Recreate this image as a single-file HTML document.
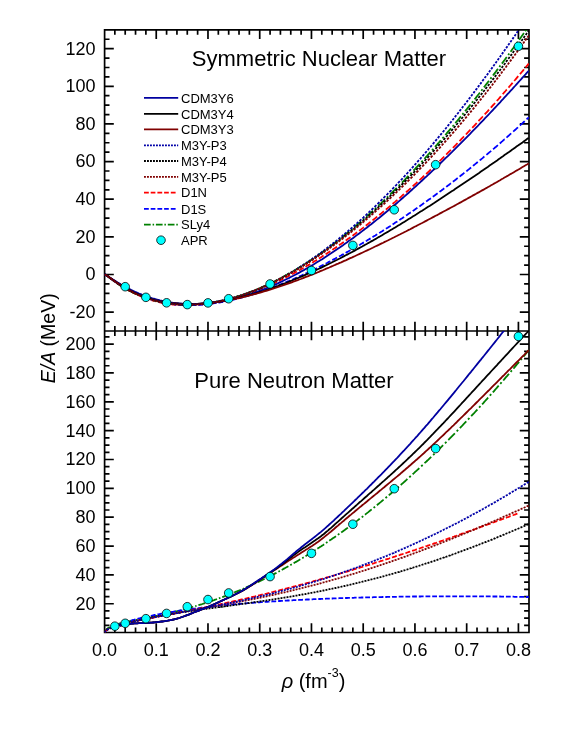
<!DOCTYPE html>
<html><head><meta charset="utf-8"><title>E/A vs density</title>
<style>html,body{margin:0;padding:0;background:#fff}body{width:581px;height:753px;overflow:hidden;font-family:"Liberation Sans",sans-serif}</style>
</head><body>
<svg width="581" height="753" viewBox="0 0 581 753" style="display:block;will-change:transform">
<rect width="581" height="753" fill="#fff"/>
<defs><clipPath id="c1"><rect x="104.60" y="29.90" width="424.40" height="301.10"/></clipPath>
<clipPath id="c2"><rect x="104.60" y="331.00" width="424.40" height="301.50"/></clipPath></defs>
<path d="M114.85 29.90v4.90M114.85 326.10v9.80M114.85 632.50v-4.90M125.20 29.90v4.90M125.20 326.10v9.80M125.20 632.50v-4.90M135.54 29.90v4.90M135.54 326.10v9.80M135.54 632.50v-4.90M145.89 29.90v4.90M145.89 326.10v9.80M145.89 632.50v-4.90M156.24 29.90v9.20M156.24 321.80v18.40M156.24 632.50v-9.20M166.59 29.90v4.90M166.59 326.10v9.80M166.59 632.50v-4.90M176.94 29.90v4.90M176.94 326.10v9.80M176.94 632.50v-4.90M187.28 29.90v4.90M187.28 326.10v9.80M187.28 632.50v-4.90M197.63 29.90v4.90M197.63 326.10v9.80M197.63 632.50v-4.90M207.98 29.90v9.20M207.98 321.80v18.40M207.98 632.50v-9.20M218.33 29.90v4.90M218.33 326.10v9.80M218.33 632.50v-4.90M228.68 29.90v4.90M228.68 326.10v9.80M228.68 632.50v-4.90M239.02 29.90v4.90M239.02 326.10v9.80M239.02 632.50v-4.90M249.37 29.90v4.90M249.37 326.10v9.80M249.37 632.50v-4.90M259.72 29.90v9.20M259.72 321.80v18.40M259.72 632.50v-9.20M270.07 29.90v4.90M270.07 326.10v9.80M270.07 632.50v-4.90M280.42 29.90v4.90M280.42 326.10v9.80M280.42 632.50v-4.90M290.76 29.90v4.90M290.76 326.10v9.80M290.76 632.50v-4.90M301.11 29.90v4.90M301.11 326.10v9.80M301.11 632.50v-4.90M311.46 29.90v9.20M311.46 321.80v18.40M311.46 632.50v-9.20M321.81 29.90v4.90M321.81 326.10v9.80M321.81 632.50v-4.90M332.16 29.90v4.90M332.16 326.10v9.80M332.16 632.50v-4.90M342.50 29.90v4.90M342.50 326.10v9.80M342.50 632.50v-4.90M352.85 29.90v4.90M352.85 326.10v9.80M352.85 632.50v-4.90M363.20 29.90v9.20M363.20 321.80v18.40M363.20 632.50v-9.20M373.55 29.90v4.90M373.55 326.10v9.80M373.55 632.50v-4.90M383.90 29.90v4.90M383.90 326.10v9.80M383.90 632.50v-4.90M394.24 29.90v4.90M394.24 326.10v9.80M394.24 632.50v-4.90M404.59 29.90v4.90M404.59 326.10v9.80M404.59 632.50v-4.90M414.94 29.90v9.20M414.94 321.80v18.40M414.94 632.50v-9.20M425.29 29.90v4.90M425.29 326.10v9.80M425.29 632.50v-4.90M435.64 29.90v4.90M435.64 326.10v9.80M435.64 632.50v-4.90M445.98 29.90v4.90M445.98 326.10v9.80M445.98 632.50v-4.90M456.33 29.90v4.90M456.33 326.10v9.80M456.33 632.50v-4.90M466.68 29.90v9.20M466.68 321.80v18.40M466.68 632.50v-9.20M477.03 29.90v4.90M477.03 326.10v9.80M477.03 632.50v-4.90M487.38 29.90v4.90M487.38 326.10v9.80M487.38 632.50v-4.90M497.72 29.90v4.90M497.72 326.10v9.80M497.72 632.50v-4.90M508.07 29.90v4.90M508.07 326.10v9.80M508.07 632.50v-4.90M518.42 29.90v9.20M518.42 321.80v18.40M518.42 632.50v-9.20M104.60 321.55h4.90M529.00 321.55h-4.90M104.60 312.14h9.20M529.00 312.14h-9.20M104.60 302.73h4.90M529.00 302.73h-4.90M104.60 293.32h4.90M529.00 293.32h-4.90M104.60 283.91h4.90M529.00 283.91h-4.90M104.60 274.50h9.20M529.00 274.50h-9.20M104.60 265.09h4.90M529.00 265.09h-4.90M104.60 255.68h4.90M529.00 255.68h-4.90M104.60 246.27h4.90M529.00 246.27h-4.90M104.60 236.86h9.20M529.00 236.86h-9.20M104.60 227.45h4.90M529.00 227.45h-4.90M104.60 218.04h4.90M529.00 218.04h-4.90M104.60 208.63h4.90M529.00 208.63h-4.90M104.60 199.22h9.20M529.00 199.22h-9.20M104.60 189.81h4.90M529.00 189.81h-4.90M104.60 180.40h4.90M529.00 180.40h-4.90M104.60 170.99h4.90M529.00 170.99h-4.90M104.60 161.58h9.20M529.00 161.58h-9.20M104.60 152.17h4.90M529.00 152.17h-4.90M104.60 142.76h4.90M529.00 142.76h-4.90M104.60 133.35h4.90M529.00 133.35h-4.90M104.60 123.94h9.20M529.00 123.94h-9.20M104.60 114.53h4.90M529.00 114.53h-4.90M104.60 105.12h4.90M529.00 105.12h-4.90M104.60 95.71h4.90M529.00 95.71h-4.90M104.60 86.30h9.20M529.00 86.30h-9.20M104.60 76.89h4.90M529.00 76.89h-4.90M104.60 67.48h4.90M529.00 67.48h-4.90M104.60 58.07h4.90M529.00 58.07h-4.90M104.60 48.66h9.20M529.00 48.66h-9.20M104.60 39.25h4.90M529.00 39.25h-4.90M104.60 625.39h4.90M529.00 625.39h-4.90M104.60 618.18h4.90M529.00 618.18h-4.90M104.60 610.96h4.90M529.00 610.96h-4.90M104.60 603.75h9.20M529.00 603.75h-9.20M104.60 596.54h4.90M529.00 596.54h-4.90M104.60 589.33h4.90M529.00 589.33h-4.90M104.60 582.11h4.90M529.00 582.11h-4.90M104.60 574.90h9.20M529.00 574.90h-9.20M104.60 567.69h4.90M529.00 567.69h-4.90M104.60 560.48h4.90M529.00 560.48h-4.90M104.60 553.26h4.90M529.00 553.26h-4.90M104.60 546.05h9.20M529.00 546.05h-9.20M104.60 538.84h4.90M529.00 538.84h-4.90M104.60 531.62h4.90M529.00 531.62h-4.90M104.60 524.41h4.90M529.00 524.41h-4.90M104.60 517.20h9.20M529.00 517.20h-9.20M104.60 509.99h4.90M529.00 509.99h-4.90M104.60 502.78h4.90M529.00 502.78h-4.90M104.60 495.56h4.90M529.00 495.56h-4.90M104.60 488.35h9.20M529.00 488.35h-9.20M104.60 481.14h4.90M529.00 481.14h-4.90M104.60 473.93h4.90M529.00 473.93h-4.90M104.60 466.71h4.90M529.00 466.71h-4.90M104.60 459.50h9.20M529.00 459.50h-9.20M104.60 452.29h4.90M529.00 452.29h-4.90M104.60 445.08h4.90M529.00 445.08h-4.90M104.60 437.86h4.90M529.00 437.86h-4.90M104.60 430.65h9.20M529.00 430.65h-9.20M104.60 423.44h4.90M529.00 423.44h-4.90M104.60 416.23h4.90M529.00 416.23h-4.90M104.60 409.01h4.90M529.00 409.01h-4.90M104.60 401.80h9.20M529.00 401.80h-9.20M104.60 394.59h4.90M529.00 394.59h-4.90M104.60 387.38h4.90M529.00 387.38h-4.90M104.60 380.16h4.90M529.00 380.16h-4.90M104.60 372.95h9.20M529.00 372.95h-9.20M104.60 365.74h4.90M529.00 365.74h-4.90M104.60 358.53h4.90M529.00 358.53h-4.90M104.60 351.31h4.90M529.00 351.31h-4.90M104.60 344.10h9.20M529.00 344.10h-9.20M104.60 336.89h4.90M529.00 336.89h-4.90" stroke="#000" stroke-width="1.70" fill="none"/>
<path d="M104.60 29.90H529.00V632.50H104.60ZM104.60 331.00H529.00" stroke="#000" stroke-width="1.70" fill="none" stroke-linejoin="miter"/>
<g clip-path="url(#c1)" fill="none" stroke-width="1.80">
<path d="M104.5 274.5L105.5 274.8L106.5 275.4L107.5 276.1L108.5 276.8L109.2 277.3M111.2 278.7L112.0 279.3L113.0 280.0L114.0 280.8L115.0 281.5L116.0 282.2M117.9 283.5L118.7 284.1L119.7 284.8L120.7 285.4L121.7 286.1L122.7 286.7M124.6 287.9L125.5 288.4L126.5 289.0L127.5 289.6L128.5 290.2L129.3 290.7M131.3 291.7L132.2 292.2L133.2 292.7L134.2 293.2L135.2 293.7L136.1 294.1M138.0 295.0L139.0 295.5L140.0 295.9L141.0 296.3L142.0 296.7L142.8 297.0M144.7 297.8L145.5 298.1L146.5 298.5L147.5 298.8L148.5 299.1L149.4 299.5L149.4 299.5M151.4 300.1L152.2 300.3L153.2 300.6L154.2 300.9L155.2 301.2L156.2 301.4M158.1 301.9L158.9 302.1L159.9 302.4L160.9 302.6L161.9 302.8L162.8 303.0M164.8 303.3L165.7 303.5L166.7 303.7L167.7 303.8L168.7 304.0L169.6 304.1M171.5 304.4L172.4 304.5L173.4 304.6L174.4 304.7L175.4 304.8L176.2 304.8M178.2 305.0L179.2 305.1L180.2 305.1L181.2 305.2L182.2 305.2L182.9 305.2M184.9 305.3L185.7 305.3L186.7 305.3L187.7 305.3L188.7 305.3L189.7 305.3M191.6 305.2L192.4 305.2L193.4 305.2L194.4 305.1L195.4 305.1L196.4 305.0M198.3 304.9L199.1 304.8L200.1 304.7L201.1 304.6L202.1 304.5L203.1 304.4M205.0 304.2L205.9 304.1L206.9 304.0L207.9 303.8L208.9 303.7L209.8 303.6M211.7 303.3L212.6 303.1L213.6 302.9L214.6 302.8L215.6 302.6L216.4 302.4M218.4 302.1L219.4 301.9L220.4 301.7L221.4 301.4L222.4 301.2L223.2 301.0M225.1 300.6L225.9 300.4L226.9 300.2L227.9 299.9L228.9 299.7L229.9 299.4M231.8 298.9L232.6 298.7L233.6 298.4L234.6 298.1L235.6 297.8L236.6 297.5M238.5 297.0L239.3 296.7L240.3 296.4L241.3 296.1L242.3 295.7L243.2 295.4M245.2 294.8L246.1 294.5L247.1 294.1L248.1 293.8L249.1 293.4L250.0 293.1M251.9 292.4L252.8 292.1L253.8 291.7L254.8 291.3L255.8 290.9L256.6 290.6M258.6 289.8L259.6 289.5L260.6 289.1L261.6 288.6L262.6 288.2L263.4 287.9M265.3 287.1L266.1 286.7L267.1 286.3L268.1 285.9L269.1 285.4L270.1 285.0M272.0 284.1L272.8 283.7L273.8 283.3L274.8 282.8L275.8 282.4L276.8 281.9M278.7 281.0L279.6 280.6L280.5 280.1L281.5 279.6L282.5 279.1L283.5 278.6M285.4 277.7L286.3 277.2L287.3 276.7L288.3 276.2L289.3 275.6L290.1 275.2M292.1 274.2L293.0 273.7L294.0 273.1L295.0 272.6L296.0 272.0L296.9 271.6M298.8 270.5L299.8 270.0L300.8 269.4L301.8 268.8L302.8 268.3L303.6 267.8M305.5 266.7L306.3 266.2L307.3 265.6L308.3 265.1L309.3 264.5L310.2 263.9M312.2 262.7L313.0 262.2L314.0 261.6L315.0 261.0L316.0 260.4L317.0 259.8M318.9 258.6L319.8 258.0L320.8 257.4L321.8 256.8L322.8 256.1L323.6 255.6M325.6 254.3L326.5 253.7L327.5 253.1L328.5 252.4L329.5 251.7L330.4 251.2M332.3 249.9L333.2 249.2L334.2 248.6L335.2 247.9L336.2 247.2L337.1 246.7M339.0 245.3L340.0 244.6L341.0 243.9L342.0 243.2L343.0 242.5L343.8 242.0M345.7 240.6L346.5 240.1L347.5 239.3L348.5 238.6L349.5 237.9L350.5 237.2M352.4 235.8L353.2 235.2L354.2 234.4L355.2 233.7L356.2 232.9L357.1 232.3M359.1 230.8L360.0 230.1L361.0 229.4L362.0 228.6L363.0 227.9L363.9 227.2M365.8 225.7L366.7 225.0L367.7 224.2L368.7 223.4L369.7 222.6L370.6 222.0M372.5 220.4L373.4 219.7L374.4 218.9L375.4 218.1L376.4 217.3L377.2 216.6M379.2 215.1L380.2 214.3L381.2 213.5L382.2 212.6L383.2 211.8L383.9 211.2M385.9 209.6L386.7 208.9L387.7 208.1L388.7 207.3L389.7 206.4L390.7 205.6M392.6 204.0L393.4 203.3L394.4 202.4L395.4 201.6L396.4 200.7L397.4 199.9M399.3 198.2L400.2 197.5L401.2 196.6L402.2 195.7L403.2 194.8L404.1 194.1M406.0 192.3L406.9 191.5L407.9 190.7L408.9 189.8L409.9 188.9L410.8 188.1M412.7 186.4L413.6 185.5L414.6 184.6L415.6 183.7L416.6 182.8L417.4 182.0M419.4 180.2L420.4 179.3L421.4 178.4L422.4 177.5L423.4 176.5L424.2 175.8M426.1 174.0L426.9 173.3L427.9 172.3L428.9 171.4L429.9 170.4L430.9 169.5M432.8 167.7L433.6 166.9L434.6 165.9L435.6 164.9L436.6 164.0L437.6 163.1M439.5 161.2L440.4 160.3L441.4 159.4L442.4 158.4L443.4 157.4L444.2 156.5M446.2 154.6L447.1 153.7L448.1 152.7L449.1 151.7L450.1 150.7L450.9 149.8M452.9 147.9L453.9 146.9L454.9 145.9L455.9 144.9L456.8 143.9L457.6 143.1M459.5 141.2L460.3 140.3L461.3 139.2L462.3 138.2L463.3 137.2L464.0 136.4M465.9 134.5L466.8 133.5L467.8 132.5L468.8 131.4L469.8 130.4L470.4 129.7M472.3 127.8L473.1 126.9L474.1 125.9L475.1 124.8L476.1 123.7L476.7 123.0M478.5 121.1L479.3 120.2L480.3 119.2L481.3 118.1L482.3 117.0L482.9 116.3M484.7 114.4L485.6 113.4L486.6 112.4L487.6 111.3L488.6 110.1L489.0 109.6M490.8 107.7L491.6 106.8L492.6 105.7L493.6 104.6L494.6 103.5L495.0 102.9M496.8 101.0L497.6 100.1L498.6 99.0L499.6 97.8L500.6 96.7L501.0 96.2M502.7 94.3L503.5 93.3L504.5 92.1L505.5 91.0L506.5 89.8L506.8 89.5M508.5 87.6L509.3 86.7L510.3 85.5L511.3 84.3L512.3 83.2L512.6 82.8M514.2 80.9L515.0 80.0L516.0 78.8L517.0 77.6L518.0 76.4L518.3 76.1M519.9 74.2L520.8 73.2L521.8 72.0L522.8 70.8L523.8 69.6L523.9 69.4M525.5 67.5L526.3 66.6L527.3 65.4L528.3 64.1L528.8 63.5" stroke="#ff0000"/>
<path d="M104.5 274.5L105.5 275.1L106.5 275.6L107.5 276.1L108.5 276.7L109.2 277.2M111.2 278.5L112.0 279.1L113.0 279.7L114.0 280.4L115.0 281.1L116.0 281.8M117.9 283.1L118.7 283.6L119.7 284.3L120.7 284.9L121.7 285.6L122.7 286.2M124.6 287.4L125.5 287.9L126.5 288.5L127.5 289.1L128.5 289.6L129.3 290.1M131.3 291.2L132.2 291.7L133.2 292.2L134.2 292.7L135.2 293.2L136.1 293.6M138.0 294.5L139.0 294.9L140.0 295.3L141.0 295.8L142.0 296.2L142.8 296.5M144.7 297.3L145.5 297.6L146.5 297.9L147.5 298.3L148.5 298.6L149.4 299.0L149.4 299.0M151.4 299.6L152.2 299.8L153.2 300.1L154.2 300.4L155.2 300.7L156.2 301.0M158.1 301.5L158.9 301.7L159.9 301.9L160.9 302.1L161.9 302.4L162.8 302.6M164.8 302.9L165.7 303.1L166.7 303.3L167.7 303.4L168.7 303.6L169.6 303.7M171.5 304.0L172.4 304.1L173.4 304.2L174.4 304.4L175.4 304.5L176.2 304.5M178.2 304.7L179.2 304.8L180.2 304.9L181.2 304.9L182.2 305.0L182.9 305.0M184.9 305.1L185.7 305.1L186.7 305.1L187.7 305.1L188.7 305.2L189.7 305.2M191.6 305.1L192.4 305.1L193.4 305.1L194.4 305.1L195.4 305.0L196.4 305.0M198.3 304.9L199.1 304.9L200.1 304.8L201.1 304.7L202.1 304.7L203.1 304.6M205.0 304.4L205.9 304.3L206.9 304.2L207.9 304.1L208.9 304.0L209.8 303.9M211.7 303.6L212.6 303.5L213.6 303.4L214.6 303.2L215.6 303.1L216.4 303.0M218.4 302.6L219.4 302.5L220.4 302.3L221.4 302.1L222.4 302.0L223.2 301.8M225.1 301.4L225.9 301.3L226.9 301.1L227.9 300.9L228.9 300.7L229.9 300.4M231.8 300.0L232.6 299.8L233.6 299.6L234.6 299.3L235.6 299.1L236.6 298.9M238.5 298.4L239.3 298.2L240.3 297.9L241.3 297.6L242.3 297.4L243.2 297.1M245.2 296.6L246.1 296.3L247.1 296.0L248.1 295.7L249.1 295.4L250.0 295.2M251.9 294.6L252.8 294.3L253.8 294.0L254.8 293.7L255.8 293.4L256.6 293.1M258.6 292.5L259.6 292.1L260.6 291.8L261.6 291.5L262.6 291.1L263.4 290.8M265.3 290.2L266.1 289.9L267.1 289.5L268.1 289.2L269.1 288.8L270.1 288.4M272.0 287.7L272.8 287.4L273.8 287.0L274.8 286.6L275.8 286.3L276.8 285.9M278.7 285.1L279.6 284.8L280.5 284.4L281.5 284.0L282.5 283.6L283.5 283.2M285.4 282.4L286.3 282.0L287.3 281.6L288.3 281.2L289.3 280.8L290.1 280.4M292.1 279.6L293.0 279.2L294.0 278.7L295.0 278.3L296.0 277.8L296.9 277.5M298.8 276.6L299.8 276.2L300.8 275.7L301.8 275.3L302.8 274.8L303.6 274.4M305.5 273.5L306.3 273.2L307.3 272.7L308.3 272.2L309.3 271.8L310.2 271.3M312.2 270.3L313.0 269.9L314.0 269.5L315.0 269.0L316.0 268.5L317.0 268.0M318.9 267.0L319.8 266.6L320.8 266.1L321.8 265.6L322.8 265.1L323.6 264.6M325.6 263.6L326.5 263.2L327.5 262.7L328.5 262.1L329.5 261.6L330.4 261.2M332.3 260.1L333.2 259.6L334.2 259.1L335.2 258.6L336.2 258.0L337.1 257.6M339.0 256.5L340.0 256.0L341.0 255.5L342.0 254.9L343.0 254.4L343.8 253.9M345.7 252.9L346.5 252.4L347.5 251.9L348.5 251.3L349.5 250.7L350.5 250.2M352.4 249.1L353.2 248.6L354.2 248.0L355.2 247.4L356.2 246.9L357.1 246.3M359.1 245.2L360.0 244.7L361.0 244.1L362.0 243.5L363.0 242.9L363.9 242.4M365.8 241.2L366.7 240.7L367.7 240.1L368.7 239.5L369.7 238.9L370.6 238.4M372.5 237.2L373.4 236.6L374.4 236.0L375.4 235.4L376.4 234.7L377.2 234.2M379.2 233.0L380.2 232.4L381.2 231.8L382.2 231.2L383.2 230.5L383.9 230.0M385.9 228.8L386.7 228.3L387.7 227.7L388.7 227.0L389.7 226.4L390.7 225.7M392.6 224.5L393.4 223.9L394.4 223.3L395.4 222.6L396.4 222.0L397.4 221.4M399.3 220.1L400.2 219.5L401.2 218.8L402.2 218.2L403.2 217.5L404.1 216.9M406.0 215.6L406.9 215.0L407.9 214.3L408.9 213.6L409.9 212.9L410.8 212.4M412.7 211.0L413.6 210.4L414.6 209.7L415.6 209.0L416.6 208.3L417.4 207.7M419.4 206.4L420.4 205.7L421.4 205.0L422.4 204.3L423.4 203.5L424.2 203.0M426.1 201.6L426.9 201.1L427.9 200.3L428.9 199.6L429.9 198.9L430.9 198.2M432.8 196.8L433.6 196.2L434.6 195.5L435.6 194.7L436.6 194.0L437.6 193.3M439.5 191.9L440.4 191.2L441.4 190.5L442.4 189.7L443.4 189.0L444.2 188.3M446.2 186.9L447.1 186.2L448.1 185.4L449.1 184.7L450.1 183.9L450.9 183.2M452.9 181.8L453.9 181.0L454.9 180.3L455.9 179.5L456.8 178.7L457.7 178.1M459.6 176.6L460.6 175.8L461.6 175.0L462.6 174.2L463.6 173.4L464.4 172.8M466.3 171.3L467.1 170.7L468.1 169.9L469.1 169.1L470.1 168.3L471.1 167.5M473.0 165.9L473.8 165.2L474.8 164.4L475.8 163.6L476.8 162.8L477.8 162.0M479.7 160.4L480.6 159.7L481.6 158.9L482.6 158.1L483.6 157.2L484.4 156.5M486.4 154.9L487.3 154.1L488.3 153.3L489.3 152.4L490.3 151.6L491.2 150.9M493.1 149.2L494.1 148.4L495.1 147.5L496.1 146.7L497.1 145.8L497.9 145.1M499.8 143.5L500.6 142.8L501.5 141.9L502.5 141.1L503.5 140.2L504.5 139.3L504.6 139.3M506.5 137.6L507.3 136.9L508.3 136.0L509.3 135.1L510.3 134.2L511.2 133.4M513.2 131.6L514.0 130.9L515.0 130.0L516.0 129.1L517.0 128.2L518.0 127.3M519.9 125.5L520.8 124.7L521.8 123.8L522.8 122.9L523.8 122.0L524.7 121.2M526.6 119.4L527.5 118.5L528.5 117.6L528.8 117.3" stroke="#0000ff"/>
<path d="M104.5 274.5L105.5 274.6L106.5 275.3L107.5 276.1L108.5 276.9L109.5 277.7L110.5 278.5L111.2 279.0M113.0 280.4L114.0 281.1L114.5 281.6M116.4 282.9L117.2 283.5L118.2 284.2L119.2 284.8L120.2 285.5L121.2 286.1L122.2 286.7L123.1 287.3M125.0 288.4L125.7 288.8L126.5 289.2M128.3 290.3L129.2 290.8L130.2 291.3L131.2 291.8L132.2 292.3L133.2 292.8L134.2 293.2L135.0 293.6M136.8 294.4L137.7 294.8L138.3 295.1M140.2 295.8L141.0 296.1L142.0 296.5L143.0 296.9L144.0 297.3L145.0 297.6L146.0 298.0L146.9 298.3M148.8 298.9L149.7 299.2L150.2 299.3M152.1 299.9L152.9 300.1L153.9 300.4L154.9 300.6L155.9 300.9L156.9 301.1L157.9 301.4L158.8 301.6M160.7 301.9L161.4 302.1L162.2 302.2M164.0 302.6L164.9 302.7L165.9 302.9L166.9 303.1L167.9 303.2L168.9 303.4L169.9 303.5L170.7 303.6M172.6 303.8L173.4 303.9L174.1 303.9M175.9 304.1L176.7 304.2L177.7 304.2L178.7 304.3L179.7 304.4L180.7 304.4L181.7 304.5L182.6 304.5M184.4 304.5L185.4 304.5L185.9 304.6M187.8 304.6L188.7 304.5L189.7 304.5L190.7 304.5L191.7 304.5L192.6 304.4L193.6 304.4L194.5 304.4M196.3 304.3L197.1 304.2L197.8 304.2M199.7 304.0L200.6 303.9L201.6 303.8L202.6 303.7L203.6 303.6L204.6 303.5L205.6 303.4L206.4 303.3M208.2 303.0L209.1 302.9L209.8 302.8M211.6 302.5L212.4 302.4L213.4 302.2L214.4 302.1L215.4 301.9L216.4 301.7L217.4 301.5L218.3 301.3M220.2 300.9L221.1 300.7L221.7 300.6M223.5 300.2L224.4 300.0L225.4 299.7L226.4 299.5L227.4 299.2L228.4 299.0L229.4 298.7L230.2 298.5M232.1 298.0L232.9 297.8L233.6 297.6M235.4 297.0L236.4 296.7L237.3 296.4L238.3 296.1L239.3 295.8L240.3 295.5L241.3 295.1L242.1 294.9M244.0 294.3L244.8 293.9L245.5 293.7M247.3 293.1L248.1 292.8L249.1 292.4L250.1 292.0L251.1 291.6L252.1 291.3L253.1 290.9L254.0 290.5M255.9 289.8L256.8 289.4L257.4 289.1M259.2 288.4L260.1 288.0L261.1 287.6L262.1 287.1L263.1 286.7L264.1 286.2L265.1 285.8L265.9 285.4M267.8 284.5L268.6 284.2L269.2 283.8M271.1 282.9L272.1 282.5L273.1 282.0L274.1 281.5L275.1 281.0L276.1 280.5L277.1 280.0L277.8 279.6M279.6 278.6L280.5 278.2L281.1 277.8M283.0 276.8L283.8 276.4L284.8 275.9L285.8 275.3L286.8 274.8L287.8 274.2L288.8 273.6L289.7 273.1M291.6 272.1L292.5 271.5L293.1 271.2M294.9 270.1L295.8 269.6L296.8 269.0L297.8 268.4L298.8 267.7L299.8 267.1L300.8 266.5L301.6 266.0M303.5 264.8L304.3 264.3L305.0 263.9M306.8 262.7L307.8 262.1L308.8 261.4L309.8 260.7L310.8 260.1L311.8 259.4L312.8 258.7L313.5 258.2M315.4 257.0L316.3 256.4L316.9 255.9M318.7 254.7L319.5 254.1L320.5 253.4L321.5 252.7L322.5 252.0L323.5 251.3L324.5 250.5L325.4 249.9M327.2 248.5L328.2 247.8L328.8 247.4M330.6 246.0L331.5 245.4L332.5 244.6L333.5 243.9L334.5 243.1L335.5 242.3L336.5 241.6L337.3 240.9M339.1 239.5L340.0 238.8L340.6 238.3M342.5 236.8L343.5 236.0L344.5 235.2L345.5 234.4L346.5 233.6L347.5 232.8L348.5 232.0L349.2 231.4M351.1 229.9L352.0 229.1L352.6 228.6M354.4 227.1L355.2 226.4L356.2 225.5L357.2 224.7L358.2 223.8L359.2 222.9L360.2 222.1L361.1 221.3M362.9 219.7L363.7 219.0L364.4 218.4M366.3 216.7L367.2 215.9L368.2 215.0L369.2 214.1L370.2 213.2L371.2 212.3L372.2 211.4L373.0 210.7M374.9 209.0L375.7 208.2L376.4 207.6M378.2 205.9L379.2 204.9L380.2 204.0L381.2 203.1L382.2 202.1L383.2 201.2L384.2 200.2L384.9 199.5M386.8 197.7L387.7 196.8L388.2 196.3M390.1 194.5L390.9 193.7L391.9 192.7L392.9 191.7L393.9 190.7L394.9 189.7L395.9 188.7L396.8 187.8M398.6 186.0L399.4 185.2L400.1 184.5M401.9 182.6L402.9 181.6L403.9 180.6L404.9 179.6L405.9 178.5L406.9 177.5L407.9 176.5L408.4 175.9M410.2 174.1L411.2 173.1L411.6 172.6M413.4 170.7L414.1 169.9L415.1 168.8L416.1 167.7L417.1 166.7L418.1 165.6L419.1 164.5L419.6 164.0M421.3 162.2L422.1 161.3L422.7 160.7M424.4 158.8L425.1 158.0L426.1 156.9L427.1 155.8L428.1 154.6L429.1 153.5L430.1 152.4L430.4 152.1M432.0 150.3L432.9 149.3L433.4 148.8M435.0 146.9L435.9 145.9L436.9 144.8L437.9 143.6L438.9 142.5L439.9 141.3L440.8 140.2M442.4 138.4L443.4 137.3L443.7 136.9M445.3 135.0L446.1 134.1L447.1 132.9L448.1 131.7L449.1 130.5L450.1 129.4L451.0 128.3M452.5 126.5L453.4 125.5L453.8 125.0M455.3 123.1L456.1 122.2L457.1 121.0L458.1 119.8L459.1 118.6L460.1 117.3L460.9 116.4M462.4 114.6L463.3 113.4L463.6 113.1M465.1 111.2L465.8 110.3L466.8 109.1L467.8 107.8L468.8 106.6L469.8 105.3L470.5 104.5M471.9 102.7L472.8 101.6L473.1 101.2M474.6 99.3L475.6 98.1L476.6 96.8L477.6 95.5L478.6 94.3L479.6 93.0L479.9 92.6M481.3 90.8L482.1 89.8L482.5 89.3M483.9 87.4L484.8 86.2L485.8 84.9L486.8 83.6L487.8 82.3L488.8 81.0L489.0 80.7M490.4 78.9L491.3 77.7L491.6 77.4M493.0 75.5L493.8 74.4L494.8 73.1L495.8 71.8L496.8 70.4L497.8 69.1L498.0 68.8M499.4 67.0L500.3 65.7L500.5 65.5M501.9 63.6L502.8 62.4L503.8 61.0L504.8 59.7L505.8 58.3L506.8 56.9L506.8 56.9M508.2 55.1L509.0 53.9L509.2 53.6M510.6 51.7L511.5 50.4L512.5 49.0L513.5 47.7L514.5 46.3L515.4 45.0M516.8 43.2L517.5 42.1L517.8 41.7M519.1 39.8L520.0 38.6L521.0 37.2L522.0 35.8L523.0 34.4L523.9 33.1M525.2 31.3L526.0 30.1L526.3 29.8M527.6 27.9L528.5 26.5L528.8 26.2" stroke="#008000"/>
<path d="M104.5 274.5L106.0 275.2L107.5 276.1L109.0 277.0L110.5 278.0L112.0 278.9L113.5 279.9L115.0 280.8L116.5 281.8L118.0 282.7L119.5 283.6L121.0 284.5L122.5 285.3L124.0 286.2L125.5 287.0L127.0 287.8L128.5 288.6L130.0 289.3L131.5 290.1L133.0 290.8L134.5 291.5L136.0 292.2L137.5 292.8L139.0 293.5L140.5 294.1L142.0 294.7L143.5 295.2L145.0 295.8L146.5 296.3L148.0 296.9L149.4 297.3L150.9 297.8L152.4 298.3L153.9 298.7L155.4 299.1L156.9 299.5L158.4 299.9L159.9 300.3L161.4 300.6L162.9 301.0L164.4 301.3L165.9 301.6L167.4 301.9L168.9 302.1L170.4 302.4L171.9 302.6L173.4 302.8L174.9 303.0L176.4 303.2L177.9 303.3L179.4 303.5L180.9 303.6L182.4 303.7L183.9 303.8L185.4 303.9L186.9 304.0L188.4 304.0L189.9 304.1L191.4 304.1L192.9 304.1L194.4 304.1L195.9 304.1L197.4 304.0L198.9 304.0L200.4 303.9L201.9 303.8L203.4 303.7L204.9 303.6L206.4 303.5L207.9 303.3L209.4 303.2L210.9 303.0L212.4 302.9L213.9 302.7L215.4 302.5L216.9 302.2L218.4 302.0L219.9 301.8L221.4 301.5L222.9 301.2L224.4 301.0L225.9 300.7L227.4 300.4L228.9 300.0L230.4 299.7L231.9 299.4L233.4 299.0L234.9 298.6L236.4 298.3L237.8 297.9L239.3 297.5L240.8 297.0L242.3 296.6L243.8 296.2L245.3 295.7L246.8 295.3L248.3 294.8L249.8 294.3L251.3 293.8L252.8 293.3L254.3 292.8L255.8 292.3L257.3 291.7L258.8 291.2L260.3 290.6L261.8 290.0L263.3 289.5L264.8 288.9L266.3 288.3L267.8 287.7L269.3 287.0L270.8 286.4L272.3 285.8L273.8 285.1L275.3 284.4L276.8 283.8L278.3 283.1L279.8 282.4L281.3 281.7L282.8 281.0L284.3 280.3L285.8 279.5L287.3 278.8L288.8 278.1L290.3 277.3L291.8 276.5L293.3 275.8L294.8 275.0L296.3 274.2L297.8 273.4L299.3 272.6L300.8 271.7L302.3 270.9L303.8 270.1L305.3 269.2L306.8 268.4L308.3 267.5L309.8 266.6L311.3 265.8L312.8 264.9L314.3 264.0L315.8 263.1L317.3 262.1L318.8 261.2L320.3 260.3L321.8 259.4L323.3 258.4L324.7 257.5L326.2 256.5L327.7 255.5L329.2 254.5L330.7 253.6L332.2 252.6L333.7 251.6L335.2 250.6L336.7 249.5L338.2 248.5L339.7 247.5L341.2 246.4L342.7 245.4L344.2 244.3L345.7 243.3L347.2 242.2L348.7 241.1L350.2 240.1L351.7 239.0L353.2 237.9L354.7 236.8L356.2 235.6L357.7 234.5L359.2 233.4L360.7 232.3L362.2 231.1L363.7 230.0L365.2 228.8L366.7 227.7L368.2 226.5L369.7 225.3L371.2 224.2L372.7 223.0L374.2 221.8L375.7 220.6L377.2 219.4L378.7 218.2L380.2 217.0L381.7 215.7L383.2 214.5L384.7 213.3L386.2 212.0L387.7 210.8L389.2 209.5L390.7 208.3L392.2 207.0L393.7 205.7L395.2 204.5L396.7 203.2L398.2 201.9L399.7 200.6L401.2 199.3L402.7 198.0L404.2 196.7L405.7 195.3L407.2 194.0L408.7 192.7L410.2 191.4L411.7 190.0L413.1 188.7L414.6 187.3L416.1 186.0L417.6 184.6L419.1 183.2L420.6 181.9L422.1 180.5L423.6 179.1L425.1 177.7L426.6 176.3L428.1 174.9L429.6 173.5L431.1 172.1L432.6 170.7L434.1 169.3L435.6 167.8L437.1 166.4L438.6 165.0L440.1 163.5L441.6 162.1L443.1 160.7L444.6 159.2L446.1 157.7L447.6 156.3L449.1 154.8L450.6 153.3L452.1 151.9L453.6 150.4L455.1 148.9L456.6 147.4L458.1 145.9L459.6 144.4L461.1 142.9L462.6 141.4L464.1 139.9L465.6 138.4L467.1 136.8L468.6 135.3L470.1 133.8L471.6 132.2L473.1 130.7L474.6 129.2L476.1 127.6L477.6 126.1L479.1 124.5L480.6 122.9L482.1 121.4L483.6 119.8L485.1 118.2L486.6 116.7L488.1 115.1L489.6 113.5L491.1 111.9L492.6 110.3L494.1 108.7L495.6 107.1L497.1 105.5L498.6 103.9L500.1 102.3L501.5 100.7L503.0 99.1L504.5 97.4L506.0 95.8L507.5 94.2L509.0 92.6L510.5 90.9L512.0 89.3L513.5 87.6L515.0 86.0L516.5 84.3L518.0 82.7L519.5 81.0L521.0 79.4L522.5 77.7L524.0 76.0L525.5 74.4L527.0 72.7L528.5 71.0L528.8 70.7" stroke="#0000a0"/>
<path d="M104.5 274.5L106.0 274.8L107.5 275.9L109.0 277.1L110.5 278.3L112.0 279.4L113.5 280.5L115.0 281.6L116.5 282.7L118.0 283.7L119.5 284.7L121.0 285.6L122.5 286.6L124.0 287.5L125.5 288.3L127.0 289.2L128.5 290.0L130.0 290.7L131.5 291.5L133.0 292.2L134.5 292.9L136.0 293.5L137.5 294.2L139.0 294.8L140.5 295.4L142.0 296.0L143.5 296.5L145.0 297.0L146.5 297.5L148.0 298.0L149.4 298.4L150.9 298.9L152.4 299.3L153.9 299.7L155.4 300.1L156.9 300.4L158.4 300.8L159.9 301.1L161.4 301.4L162.9 301.6L164.4 301.9L165.9 302.2L167.4 302.4L168.9 302.6L170.4 302.8L171.9 303.0L173.4 303.1L174.9 303.3L176.4 303.4L177.9 303.5L179.4 303.6L180.9 303.7L182.4 303.8L183.9 303.9L185.4 303.9L186.9 303.9L188.4 304.0L189.9 304.0L191.4 303.9L192.9 303.9L194.4 303.9L195.9 303.8L197.4 303.8L198.9 303.7L200.4 303.6L201.9 303.5L203.4 303.4L204.9 303.3L206.4 303.2L207.9 303.0L209.4 302.9L210.9 302.7L212.4 302.5L213.9 302.4L215.4 302.2L216.9 301.9L218.4 301.7L219.9 301.5L221.4 301.3L222.9 301.0L224.4 300.8L225.9 300.5L227.4 300.2L228.9 299.9L230.4 299.6L231.9 299.3L233.4 299.0L234.9 298.7L236.4 298.4L237.8 298.0L239.3 297.7L240.8 297.3L242.3 296.9L243.8 296.6L245.3 296.2L246.8 295.8L248.3 295.4L249.8 295.0L251.3 294.6L252.8 294.1L254.3 293.7L255.8 293.3L257.3 292.8L258.8 292.4L260.3 291.9L261.8 291.4L263.3 291.0L264.8 290.5L266.3 290.0L267.8 289.5L269.3 289.0L270.8 288.5L272.3 287.9L273.8 287.4L275.3 286.9L276.8 286.3L278.3 285.8L279.8 285.2L281.3 284.7L282.8 284.1L284.3 283.5L285.8 283.0L287.3 282.4L288.8 281.8L290.3 281.2L291.8 280.6L293.3 280.0L294.8 279.4L296.3 278.7L297.8 278.1L299.3 277.5L300.8 276.8L302.3 276.2L303.8 275.6L305.3 274.9L306.8 274.2L308.3 273.6L309.8 272.9L311.3 272.2L312.8 271.5L314.3 270.9L315.8 270.2L317.3 269.5L318.8 268.8L320.3 268.1L321.8 267.4L323.3 266.6L324.7 265.9L326.2 265.2L327.7 264.5L329.2 263.7L330.7 263.0L332.2 262.2L333.7 261.5L335.2 260.7L336.7 260.0L338.2 259.2L339.7 258.5L341.2 257.7L342.7 256.9L344.2 256.1L345.7 255.3L347.2 254.6L348.7 253.8L350.2 253.0L351.7 252.2L353.2 251.4L354.7 250.6L356.2 249.7L357.7 248.9L359.2 248.1L360.7 247.3L362.2 246.5L363.7 245.6L365.2 244.8L366.7 244.0L368.2 243.1L369.7 242.3L371.2 241.4L372.7 240.6L374.2 239.7L375.7 238.9L377.2 238.0L378.7 237.1L380.2 236.3L381.7 235.4L383.2 234.5L384.7 233.6L386.2 232.7L387.7 231.9L389.2 231.0L390.7 230.1L392.2 229.2L393.7 228.3L395.2 227.4L396.7 226.5L398.2 225.6L399.7 224.7L401.2 223.7L402.7 222.8L404.2 221.9L405.7 221.0L407.2 220.1L408.7 219.1L410.2 218.2L411.7 217.3L413.1 216.3L414.6 215.4L416.1 214.5L417.6 213.5L419.1 212.6L420.6 211.6L422.1 210.7L423.6 209.7L425.1 208.8L426.6 207.8L428.1 206.8L429.6 205.9L431.1 204.9L432.6 203.9L434.1 203.0L435.6 202.0L437.1 201.0L438.6 200.0L440.1 199.1L441.6 198.1L443.1 197.1L444.6 196.1L446.1 195.1L447.6 194.1L449.1 193.1L450.6 192.1L452.1 191.1L453.6 190.2L455.1 189.1L456.6 188.1L458.1 187.1L459.6 186.1L461.1 185.1L462.6 184.1L464.1 183.1L465.6 182.1L467.1 181.1L468.6 180.1L470.1 179.0L471.6 178.0L473.1 177.0L474.6 176.0L476.1 174.9L477.6 173.9L479.1 172.9L480.6 171.8L482.1 170.8L483.6 169.8L485.1 168.7L486.6 167.7L488.1 166.7L489.6 165.6L491.1 164.6L492.6 163.5L494.1 162.5L495.6 161.4L497.1 160.4L498.6 159.3L500.1 158.3L501.5 157.2L503.0 156.2L504.5 155.1L506.0 154.1L507.5 153.0L509.0 152.0L510.5 150.9L512.0 149.8L513.5 148.8L515.0 147.7L516.5 146.6L518.0 145.6L519.5 144.5L521.0 143.4L522.5 142.4L524.0 141.3L525.5 140.2L527.0 139.1L528.5 138.1L528.8 137.9" stroke="#000000"/>
<path d="M104.5 274.5L106.0 275.0L107.5 276.0L109.0 277.1L110.5 278.2L112.0 279.3L113.5 280.4L115.0 281.5L116.5 282.5L118.0 283.5L119.5 284.5L121.0 285.5L122.5 286.4L124.0 287.3L125.5 288.2L127.0 289.0L128.5 289.9L130.0 290.6L131.5 291.4L133.0 292.1L134.5 292.8L136.0 293.5L137.5 294.2L139.0 294.8L140.5 295.4L142.0 296.0L143.5 296.5L145.0 297.1L146.5 297.6L148.0 298.1L149.4 298.5L150.9 299.0L152.4 299.4L153.9 299.8L155.4 300.2L156.9 300.5L158.4 300.9L159.9 301.2L161.4 301.5L162.9 301.8L164.4 302.0L165.9 302.3L167.4 302.5L168.9 302.7L170.4 302.9L171.9 303.1L173.4 303.3L174.9 303.4L176.4 303.5L177.9 303.7L179.4 303.8L180.9 303.8L182.4 303.9L183.9 304.0L185.4 304.0L186.9 304.0L188.4 304.1L189.9 304.1L191.4 304.0L192.9 304.0L194.4 304.0L195.9 303.9L197.4 303.9L198.9 303.8L200.4 303.7L201.9 303.6L203.4 303.5L204.9 303.4L206.4 303.3L207.9 303.1L209.4 303.0L210.9 302.8L212.4 302.6L213.9 302.5L215.4 302.3L216.9 302.1L218.4 301.8L219.9 301.6L221.4 301.4L222.9 301.2L224.4 300.9L225.9 300.6L227.4 300.4L228.9 300.1L230.4 299.8L231.9 299.5L233.4 299.2L234.9 298.9L236.4 298.6L237.8 298.3L239.3 298.0L240.8 297.6L242.3 297.3L243.8 296.9L245.3 296.6L246.8 296.2L248.3 295.8L249.8 295.4L251.3 295.0L252.8 294.6L254.3 294.2L255.8 293.8L257.3 293.4L258.8 293.0L260.3 292.6L261.8 292.1L263.3 291.7L264.8 291.2L266.3 290.8L267.8 290.3L269.3 289.9L270.8 289.4L272.3 288.9L273.8 288.4L275.3 288.0L276.8 287.5L278.3 287.0L279.8 286.5L281.3 286.0L282.8 285.5L284.3 284.9L285.8 284.4L287.3 283.9L288.8 283.4L290.3 282.8L291.8 282.3L293.3 281.7L294.8 281.2L296.3 280.6L297.8 280.1L299.3 279.5L300.8 279.0L302.3 278.4L303.8 277.8L305.3 277.2L306.8 276.7L308.3 276.1L309.8 275.5L311.3 274.9L312.8 274.3L314.3 273.7L315.8 273.1L317.3 272.5L318.8 271.9L320.3 271.2L321.8 270.6L323.3 270.0L324.7 269.4L326.2 268.7L327.7 268.1L329.2 267.5L330.7 266.8L332.2 266.2L333.7 265.5L335.2 264.9L336.7 264.2L338.2 263.6L339.7 262.9L341.2 262.3L342.7 261.6L344.2 260.9L345.7 260.3L347.2 259.6L348.7 258.9L350.2 258.2L351.7 257.6L353.2 256.9L354.7 256.2L356.2 255.5L357.7 254.8L359.2 254.1L360.7 253.4L362.2 252.7L363.7 252.0L365.2 251.3L366.7 250.6L368.2 249.9L369.7 249.2L371.2 248.5L372.7 247.8L374.2 247.0L375.7 246.3L377.2 245.6L378.7 244.9L380.2 244.1L381.7 243.4L383.2 242.7L384.7 241.9L386.2 241.2L387.7 240.5L389.2 239.7L390.7 239.0L392.2 238.2L393.7 237.5L395.2 236.7L396.7 236.0L398.2 235.2L399.7 234.5L401.2 233.7L402.7 233.0L404.2 232.2L405.7 231.5L407.2 230.7L408.7 229.9L410.2 229.2L411.7 228.4L413.1 227.6L414.6 226.8L416.1 226.1L417.6 225.3L419.1 224.5L420.6 223.7L422.1 223.0L423.6 222.2L425.1 221.4L426.6 220.6L428.1 219.8L429.6 219.0L431.1 218.2L432.6 217.4L434.1 216.6L435.6 215.8L437.1 215.1L438.6 214.3L440.1 213.4L441.6 212.6L443.1 211.8L444.6 211.0L446.1 210.2L447.6 209.4L449.1 208.6L450.6 207.8L452.1 207.0L453.6 206.2L455.1 205.4L456.6 204.5L458.1 203.7L459.6 202.9L461.1 202.1L462.6 201.2L464.1 200.4L465.6 199.6L467.1 198.8L468.6 197.9L470.1 197.1L471.6 196.3L473.1 195.4L474.6 194.6L476.1 193.8L477.6 192.9L479.1 192.1L480.6 191.2L482.1 190.4L483.6 189.6L485.1 188.7L486.6 187.9L488.1 187.0L489.6 186.2L491.1 185.3L492.6 184.5L494.1 183.6L495.6 182.8L497.1 181.9L498.6 181.0L500.1 180.2L501.5 179.3L503.0 178.5L504.5 177.6L506.0 176.7L507.5 175.9L509.0 175.0L510.5 174.1L512.0 173.3L513.5 172.4L515.0 171.5L516.5 170.6L518.0 169.8L519.5 168.9L521.0 168.0L522.5 167.1L524.0 166.2L525.5 165.3L527.0 164.5L528.5 163.6L528.8 163.4" stroke="#800000"/>
<path d="M104.5 274.5L105.5 274.5L106.4 275.2M107.5 276.0L108.2 276.6L109.2 277.4L109.4 277.5M110.5 278.3L111.2 278.9L112.2 279.6L112.4 279.7M113.5 280.5L114.2 281.1L115.2 281.8L115.4 281.9M116.5 282.6L117.2 283.1L118.2 283.8L118.4 283.9M119.5 284.6L120.2 285.1L121.2 285.7L121.4 285.8M122.5 286.4L123.5 287.0L124.4 287.5M125.5 288.1L126.5 288.7L127.4 289.2M128.5 289.7L129.5 290.3L130.4 290.7M131.5 291.2L132.5 291.7L133.4 292.2M134.5 292.7L135.5 293.1L136.4 293.5M137.5 294.0L138.5 294.4L139.4 294.7M140.5 295.2L141.5 295.6L142.4 295.9M143.5 296.3L144.5 296.7L145.4 297.0M146.5 297.4L147.5 297.7L148.4 298.0M149.5 298.3L150.4 298.6L151.4 298.9M152.5 299.2L153.4 299.5L154.4 299.7M155.5 300.0L156.4 300.2L157.4 300.5M158.5 300.7L159.4 300.9L160.4 301.1M161.5 301.4L162.4 301.6L163.4 301.8M164.5 302.0L165.4 302.1L166.4 302.3M167.5 302.5L168.4 302.6L169.4 302.7M170.5 302.9L171.4 303.0L172.4 303.1M173.5 303.3L174.4 303.4L175.4 303.5M176.5 303.6L177.4 303.7L178.4 303.7M179.5 303.8L180.4 303.9L181.4 303.9M182.5 304.0L183.4 304.0L184.4 304.1M185.5 304.1L186.4 304.1L187.4 304.1M188.5 304.1L189.4 304.1L190.4 304.1M191.5 304.1L192.4 304.1L193.4 304.1M194.5 304.0L195.4 304.0L196.4 304.0M197.5 303.9L198.4 303.8L199.4 303.8M200.5 303.7L201.4 303.6L202.4 303.5M203.5 303.4L204.4 303.3L205.4 303.2M206.5 303.1L207.4 303.0L208.4 302.9M209.5 302.7L210.4 302.6L211.4 302.5L211.4 302.5M212.5 302.3L213.4 302.2L214.4 302.0L214.4 302.0M215.5 301.8L216.4 301.7L217.4 301.5L217.4 301.5M218.5 301.3L219.4 301.1L220.4 300.9L220.4 300.9M221.5 300.7L222.4 300.5L223.4 300.3L223.4 300.3M224.5 300.0L225.4 299.8L226.4 299.6L226.4 299.6M227.5 299.3L228.4 299.1L229.4 298.8L229.4 298.8M230.5 298.5L231.4 298.3L232.4 298.0L232.4 298.0M233.5 297.7L234.4 297.5L235.4 297.2L235.4 297.2M236.5 296.9L237.3 296.6L238.3 296.3L238.4 296.3M239.5 295.9L240.3 295.7L241.3 295.3L241.4 295.3M242.5 295.0L243.3 294.7L244.3 294.3L244.4 294.3M245.5 294.0L246.3 293.6L247.3 293.3L247.4 293.3M248.5 292.9L249.3 292.6L250.3 292.2L250.4 292.2M251.5 291.8L252.3 291.4L253.3 291.0L253.4 291.0M254.5 290.6L255.3 290.2L256.3 289.8L256.4 289.8M257.5 289.4L258.3 289.0L259.3 288.6L259.4 288.6M260.5 288.1L261.3 287.7L262.3 287.3L262.4 287.3M263.5 286.8L264.3 286.4L265.3 285.9L265.4 285.9M266.5 285.4L267.3 285.0L268.3 284.5L268.4 284.5M269.5 284.0L270.3 283.6L271.3 283.1L271.4 283.1M272.5 282.5L273.3 282.1L274.3 281.6L274.4 281.6M275.5 281.0L276.3 280.6L277.3 280.1L277.4 280.0M278.5 279.4L279.3 279.0L280.3 278.5L280.4 278.4M281.5 277.8L282.3 277.4L283.3 276.9L283.4 276.8M284.5 276.2L285.3 275.7L286.3 275.2L286.4 275.1M287.5 274.5L288.3 274.0L289.3 273.5L289.4 273.4M290.5 272.8L291.3 272.3L292.3 271.7L292.4 271.6M293.5 271.0L294.3 270.5L295.3 269.9L295.4 269.8M296.5 269.1L297.3 268.7L298.3 268.0L298.4 268.0M299.5 267.3L300.3 266.8L301.3 266.1L301.4 266.1M302.5 265.4L303.3 264.8L304.3 264.2L304.4 264.1M305.5 263.4L306.3 262.9L307.3 262.2L307.4 262.1M308.5 261.4L309.3 260.9L310.3 260.2L310.4 260.1M311.5 259.3L312.3 258.8L313.3 258.1L313.4 258.0M314.5 257.3L315.3 256.7L316.3 256.0L316.4 255.9M317.5 255.1L318.3 254.6L319.3 253.8L319.4 253.8M320.5 253.0L321.3 252.4L322.3 251.6L322.4 251.6M323.5 250.7L324.3 250.2L325.2 249.4L325.4 249.3M326.5 248.5L327.2 247.9L328.2 247.1L328.4 247.0M329.5 246.2L330.2 245.6L331.2 244.8L331.4 244.7M332.5 243.8L333.2 243.2L334.2 242.5L334.4 242.3M335.5 241.5L336.2 240.9L337.2 240.1L337.4 239.9M338.5 239.0L339.2 238.4L340.2 237.6L340.4 237.5M341.5 236.6L342.2 236.0L343.2 235.1L343.4 235.0M344.5 234.1L345.5 233.3L346.4 232.5M347.5 231.6L348.5 230.7L349.4 229.9M350.5 229.0L351.5 228.1L352.4 227.3M353.5 226.4L354.5 225.5L355.4 224.7M356.5 223.7L357.5 222.8L358.4 222.0M359.5 221.0L360.5 220.1L361.4 219.3M362.5 218.3L363.5 217.4L364.4 216.5M365.5 215.5L366.5 214.6L367.4 213.7M368.5 212.7L369.4 211.8L370.4 210.9M371.5 209.9L372.4 209.0L373.4 208.1M374.5 207.0L375.4 206.1L376.4 205.2M377.5 204.1L378.4 203.1L379.4 202.2M380.5 201.1L381.4 200.2L382.4 199.2M383.5 198.1L384.4 197.2L385.4 196.2M386.5 195.1L387.4 194.2L388.3 193.2M389.4 192.1L390.2 191.3L391.2 190.3L391.2 190.2M392.3 189.1L393.2 188.2L394.1 187.2M395.2 186.1L396.2 185.1L397.0 184.2M398.0 183.1L398.9 182.2L399.8 181.2M400.9 180.1L401.7 179.3L402.6 178.2M403.6 177.1L404.4 176.3L405.4 175.2M406.4 174.1L407.4 173.1L408.2 172.2M409.2 171.1L409.9 170.3L410.9 169.2M411.9 168.1L412.6 167.3L413.6 166.2M414.6 165.1L415.4 164.2L416.2 163.2M417.2 162.1L418.1 161.1L418.9 160.2M419.9 159.1L420.6 158.3L421.5 157.2M422.5 156.1L423.4 155.1L424.1 154.2M425.1 153.1L425.9 152.2L426.7 151.2M427.7 150.1L428.6 149.0L429.3 148.2M430.2 147.1L431.1 146.1L431.8 145.2M432.8 144.1L433.6 143.1L434.4 142.2M435.3 141.1L436.1 140.1L436.9 139.2M437.8 138.1L438.6 137.1L439.4 136.2M440.3 135.1L441.1 134.1L441.8 133.2M442.7 132.1L443.6 131.1L444.3 130.2M445.2 129.1L446.1 128.0L446.7 127.2M447.6 126.1L448.4 125.2L449.1 124.2M450.0 123.1L450.9 122.1L451.5 121.2M452.4 120.1L453.4 119.0L453.9 118.2M454.8 117.1L455.6 116.1L456.3 115.2M457.2 114.1L458.1 113.0L458.7 112.2M459.5 111.1L460.3 110.1L461.0 109.2M461.9 108.1L462.8 106.9L463.3 106.2M464.2 105.1L465.1 104.0L465.7 103.2M466.5 102.1L467.3 101.1L468.0 100.2M468.8 99.1L469.6 98.1L470.3 97.2M471.1 96.1L472.1 94.8L472.5 94.2M473.4 93.1L474.3 91.9L474.8 91.2M475.6 90.1L476.6 88.9L477.1 88.2M477.9 87.1L478.8 85.9L479.3 85.2M480.1 84.1L481.1 82.9L481.5 82.2M482.3 81.1L483.3 79.8L483.8 79.2M484.6 78.1L485.3 77.1L486.0 76.2M486.8 75.1L487.6 74.1L488.2 73.2M489.0 72.1L489.8 71.0L490.3 70.2M491.1 69.1L492.1 67.9L492.5 67.2M493.3 66.1L494.3 64.8L494.7 64.2M495.5 63.1L496.3 62.0L496.8 61.2M497.6 60.1L498.6 58.8L499.0 58.2M499.8 57.1L500.6 56.0L501.1 55.2M501.9 54.1L502.8 52.9L503.2 52.2M504.0 51.1L504.8 50.0L505.4 49.2M506.1 48.1L507.0 46.9L507.5 46.2M508.2 45.1L509.0 44.0L509.6 43.2M510.3 42.1L511.3 40.8L511.7 40.2M512.4 39.1L513.3 37.9L513.7 37.2M514.5 36.1L515.3 35.0L515.8 34.2M516.6 33.1L517.5 31.7L517.9 31.2M518.6 30.1L519.5 28.8L519.9 28.2M520.7 27.1L521.5 25.9L522.0 25.2M522.7 24.1L523.5 23.0L524.0 22.2M524.8 21.1L525.5 20.0L526.0 19.2M526.8 18.1L527.8 16.7L528.1 16.2" stroke="#0000a8"/>
<path d="M104.5 274.5L105.5 274.9L106.4 275.4M107.5 276.1L108.5 276.8L109.4 277.4M110.5 278.2L111.5 278.9L112.4 279.5M113.5 280.3L114.5 280.9L115.4 281.6M116.5 282.3L117.5 282.9L118.4 283.5M119.5 284.2L120.5 284.9L121.4 285.4M122.5 286.1L123.5 286.7L124.4 287.2M125.5 287.9L126.5 288.4L127.4 288.9M128.5 289.5L129.5 290.1L130.4 290.5M131.5 291.1L132.5 291.6L133.4 292.1M134.5 292.6L135.5 293.0L136.4 293.5M137.5 294.0L138.5 294.4L139.4 294.8M140.5 295.3L141.5 295.6L142.4 296.0M143.5 296.4L144.5 296.8L145.4 297.2M146.5 297.5L147.5 297.9L148.4 298.2M149.5 298.6L150.4 298.9L151.4 299.2M152.5 299.5L153.4 299.8L154.4 300.0M155.5 300.3L156.4 300.6L157.4 300.8M158.5 301.1L159.4 301.3L160.4 301.5M161.5 301.8L162.4 302.0L163.4 302.2M164.5 302.4L165.4 302.6L166.4 302.7M167.5 302.9L168.4 303.1L169.4 303.2M170.5 303.4L171.4 303.5L172.4 303.6M173.5 303.7L174.4 303.9L175.4 304.0M176.5 304.1L177.4 304.1L178.4 304.2M179.5 304.3L180.4 304.3L181.4 304.4M182.5 304.5L183.4 304.5L184.4 304.5M185.5 304.6L186.4 304.6L187.4 304.6M188.5 304.6L189.4 304.6L190.4 304.6M191.5 304.6L192.4 304.5L193.4 304.5L193.4 304.5M194.5 304.5L195.4 304.4L196.4 304.4L196.4 304.4M197.5 304.3L198.4 304.2L199.4 304.2L199.4 304.2M200.5 304.1L201.4 304.0L202.4 303.9L202.4 303.9M203.5 303.8L204.4 303.7L205.4 303.6L205.4 303.6M206.5 303.5L207.4 303.3L208.4 303.2L208.4 303.2M209.5 303.1L210.4 302.9L211.4 302.8L211.4 302.8M212.5 302.6L213.4 302.5L214.4 302.3L214.4 302.3M215.5 302.1L216.4 301.9L217.4 301.7L217.4 301.7M218.5 301.5L219.4 301.3L220.4 301.1L220.4 301.1M221.5 300.9L222.4 300.7L223.4 300.5L223.4 300.5M224.5 300.2L225.4 300.0L226.4 299.8L226.4 299.8M227.5 299.5L228.4 299.3L229.4 299.0L229.4 299.0M230.5 298.7L231.4 298.5L232.4 298.2L232.4 298.2M233.5 297.9L234.4 297.6L235.4 297.3L235.4 297.3M236.5 297.0L237.3 296.7L238.3 296.4L238.4 296.4M239.5 296.1L240.3 295.8L241.3 295.5L241.4 295.4M242.5 295.1L243.3 294.8L244.3 294.4L244.4 294.4M245.5 294.0L246.3 293.7L247.3 293.4L247.4 293.4M248.5 293.0L249.3 292.7L250.3 292.3L250.4 292.3M251.5 291.8L252.3 291.5L253.3 291.1L253.4 291.1M254.5 290.7L255.3 290.3L256.3 289.9L256.4 289.9M257.5 289.4L258.3 289.1L259.3 288.7L259.4 288.6M260.5 288.2L261.3 287.8L262.3 287.4L262.4 287.4M263.5 286.9L264.3 286.5L265.3 286.1L265.4 286.0M266.5 285.5L267.3 285.1L268.3 284.7L268.4 284.6M269.5 284.1L270.3 283.7L271.3 283.3L271.4 283.2M272.5 282.7L273.3 282.3L274.3 281.8L274.4 281.7M275.5 281.2L276.3 280.8L277.3 280.3L277.4 280.2M278.5 279.7L279.3 279.2L280.3 278.7L280.4 278.7M281.5 278.1L282.3 277.7L283.3 277.1L283.4 277.1M284.5 276.5L285.3 276.1L286.3 275.5L286.4 275.4M287.5 274.8L288.3 274.4L289.3 273.8L289.4 273.8M290.5 273.1L291.3 272.7L292.3 272.1L292.4 272.1M293.5 271.4L294.3 271.0L295.3 270.4L295.4 270.3M296.5 269.6L297.3 269.2L298.3 268.6L298.4 268.5M299.5 267.8L300.3 267.4L301.3 266.7L301.4 266.7M302.5 266.0L303.3 265.5L304.3 264.9L304.4 264.8M305.5 264.1L306.3 263.6L307.3 263.0L307.4 262.9M308.5 262.2L309.3 261.7L310.3 261.0L310.4 260.9M311.5 260.2L312.3 259.7L313.3 259.0L313.4 258.9M314.5 258.2L315.3 257.7L316.3 257.0L316.4 256.9M317.5 256.2L318.3 255.6L319.3 254.9L319.4 254.8M320.5 254.1L321.3 253.6L322.3 252.9L322.4 252.7M323.5 252.0L324.3 251.4L325.2 250.7L325.4 250.6M326.5 249.8L327.5 249.1L328.4 248.4M329.5 247.6L330.5 246.9L331.4 246.2M332.5 245.4L333.5 244.7L334.4 244.0M335.5 243.2L336.5 242.4L337.4 241.7M338.5 240.9L339.5 240.1L340.4 239.4M341.5 238.5L342.5 237.8L343.4 237.0M344.5 236.2L345.5 235.4L346.4 234.7M347.5 233.8L348.5 233.0L349.4 232.2M350.5 231.3L351.5 230.5L352.4 229.8M353.5 228.9L354.5 228.1L355.4 227.3M356.5 226.4L357.5 225.6L358.4 224.8M359.5 223.8L360.5 223.0L361.4 222.2M362.5 221.3L363.5 220.4L364.4 219.6M365.5 218.7L366.5 217.8L367.4 217.0M368.5 216.0L369.4 215.2L370.4 214.4M371.5 213.4L372.4 212.5L373.4 211.7M374.5 210.7L375.4 209.8L376.4 208.9M377.5 207.9L378.4 207.1L379.4 206.2M380.5 205.2L381.4 204.3L382.4 203.4M383.5 202.4L384.4 201.5L385.4 200.6M386.5 199.6L387.4 198.7L388.4 197.7M389.5 196.7L390.4 195.8L391.4 194.9M392.5 193.8L393.4 192.9L394.4 191.9M395.5 190.9L396.4 190.0L397.4 189.0M398.5 187.9L399.4 187.0L400.4 186.0M401.5 184.9L402.4 184.0L403.4 183.0M404.5 181.9L405.4 181.0L406.4 180.0M407.4 178.9L408.4 177.9L409.3 177.0M410.4 175.9L411.2 175.1L412.2 174.1L412.2 174.0M413.3 172.9L414.1 172.0L415.1 171.0M416.1 169.9L416.9 169.1L417.9 168.1L417.9 168.0M419.0 166.9L419.9 165.9L420.7 165.0M421.8 163.9L422.6 163.0L423.5 162.0M424.6 160.9L425.4 160.0L426.3 159.0M427.3 157.9L428.1 157.1L429.1 156.0M430.1 154.9L430.9 154.0L431.8 153.0M432.8 151.9L433.6 151.0L434.5 150.0M435.5 148.9L436.4 147.9L437.2 147.0M438.2 145.9L439.1 144.9L439.9 144.0M440.8 142.9L441.6 142.0L442.5 141.0M443.5 139.9L444.4 138.9L445.1 138.0M446.1 136.9L446.9 136.0L447.7 135.0M448.7 133.9L449.6 132.8L450.3 132.0M451.2 130.9L452.1 129.9L452.9 129.0M453.8 127.9L454.6 127.0L455.4 126.0M456.3 124.9L457.1 124.0L457.9 123.0M458.9 121.9L459.8 120.8L460.4 120.0M461.4 118.9L462.3 117.8L462.9 117.0M463.9 115.9L464.8 114.7L465.4 114.0M466.3 112.9L467.1 112.0L467.9 111.0M468.8 109.9L469.6 108.9L470.3 108.0M471.2 106.9L472.1 105.9L472.8 105.0M473.6 103.9L474.6 102.8L475.2 102.0M476.0 100.9L476.8 100.0L477.6 99.0M478.4 97.9L479.3 96.8L479.9 96.0M480.8 94.9L481.6 94.0L482.3 93.0M483.2 91.9L484.1 90.8L484.7 90.0M485.5 88.9L486.3 87.9L487.0 87.0M487.9 85.9L488.8 84.7L489.3 84.0M490.2 82.9L491.1 81.8L491.7 81.0M492.5 79.9L493.3 78.9L494.0 78.0M494.8 76.9L495.6 75.9L496.2 75.0M497.1 73.9L498.1 72.6L498.5 72.0M499.4 70.9L500.3 69.7L500.8 69.0M501.6 67.9L502.5 66.7L503.0 66.0M503.9 64.9L504.8 63.7L505.3 63.0M506.1 61.9L507.0 60.6L507.5 60.0M508.3 58.9L509.3 57.6L509.7 57.0M510.5 55.9L511.3 54.9L511.9 54.0M512.7 52.9L513.5 51.8L514.1 51.0M514.9 49.9L515.8 48.7L516.3 48.0M517.1 46.9L518.0 45.6L518.5 45.0M519.2 43.9L520.0 42.8L520.6 42.0M521.4 40.9L522.3 39.7L522.8 39.0M523.5 37.9L524.5 36.6L524.9 36.0M525.7 34.9L526.5 33.7L527.0 33.0M527.8 31.9L528.8 30.6" stroke="#000000"/>
<path d="M104.5 274.5L105.5 274.9L106.4 275.4M107.5 276.1L108.5 276.8L109.4 277.4M110.5 278.2L111.5 278.9L112.4 279.6M113.5 280.4L114.5 281.1L115.4 281.7M116.5 282.5L117.5 283.2L118.4 283.8M119.5 284.5L120.5 285.2L121.4 285.8M122.5 286.5L123.5 287.1L124.4 287.6M125.5 288.3L126.5 288.9L127.4 289.4M128.5 290.0L129.5 290.6L130.4 291.1M131.5 291.6L132.5 292.1L133.4 292.6M134.5 293.2L135.5 293.6L136.4 294.1M137.5 294.6L138.5 295.0L139.4 295.4M140.5 295.9L141.5 296.3L142.4 296.6M143.5 297.1L144.5 297.4L145.4 297.8M146.5 298.2L147.5 298.5L148.4 298.8M149.5 299.2L150.4 299.5L151.4 299.8M152.5 300.1L153.4 300.4L154.4 300.7M155.5 301.0L156.4 301.2L157.4 301.4M158.5 301.7L159.4 301.9L160.4 302.1M161.5 302.4L162.4 302.6L163.4 302.7M164.5 302.9L165.4 303.1L166.4 303.3M167.5 303.4L168.4 303.6L169.4 303.7M170.5 303.9L171.4 304.0L172.4 304.1M173.5 304.2L174.4 304.3L175.4 304.4M176.5 304.5L177.4 304.6L178.4 304.6M179.5 304.7L180.4 304.7L181.4 304.8M182.5 304.8L183.4 304.8L184.4 304.9M185.5 304.9L186.4 304.9L187.4 304.9M188.5 304.9L189.4 304.9L190.4 304.8M191.5 304.8L192.4 304.8L193.4 304.7L193.4 304.7M194.5 304.7L195.4 304.6L196.4 304.6L196.4 304.6M197.5 304.5L198.4 304.4L199.4 304.3L199.4 304.3M200.5 304.2L201.4 304.1L202.4 304.0L202.4 304.0M203.5 303.9L204.4 303.8L205.4 303.7L205.4 303.7M206.5 303.5L207.4 303.4L208.4 303.3L208.4 303.3M209.5 303.1L210.4 303.0L211.4 302.8L211.4 302.8M212.5 302.6L213.4 302.5L214.4 302.3L214.4 302.3M215.5 302.1L216.4 301.9L217.4 301.7L217.4 301.7M218.5 301.5L219.4 301.3L220.4 301.1L220.4 301.1M221.5 300.8L222.4 300.6L223.4 300.4L223.4 300.4M224.5 300.1L225.4 299.9L226.4 299.7L226.4 299.7M227.5 299.4L228.4 299.2L229.4 298.9L229.4 298.9M230.5 298.6L231.4 298.3L232.4 298.1L232.4 298.0M233.5 297.7L234.4 297.5L235.4 297.2L235.4 297.2M236.5 296.8L237.3 296.6L238.3 296.3L238.4 296.2M239.5 295.9L240.3 295.6L241.3 295.3L241.4 295.3M242.5 294.9L243.3 294.6L244.3 294.3L244.4 294.2M245.5 293.9L246.3 293.6L247.3 293.2L247.4 293.2M248.5 292.8L249.3 292.5L250.3 292.1L250.4 292.1M251.5 291.6L252.3 291.3L253.3 290.9L253.4 290.9M254.5 290.5L255.3 290.1L256.3 289.7L256.4 289.7M257.5 289.2L258.3 288.9L259.3 288.5L259.4 288.5M260.5 288.0L261.3 287.6L262.3 287.2L262.4 287.2M263.5 286.7L264.3 286.3L265.3 285.9L265.4 285.8M266.5 285.3L267.3 285.0L268.3 284.5L268.4 284.5M269.5 284.0L270.3 283.6L271.3 283.1L271.4 283.1M272.5 282.5L273.3 282.1L274.3 281.6L274.4 281.6M275.5 281.1L276.3 280.7L277.3 280.2L277.4 280.1M278.5 279.6L279.3 279.1L280.3 278.6L280.4 278.6M281.5 278.0L282.3 277.6L283.3 277.1L283.4 277.0M284.5 276.4L285.3 276.0L286.3 275.5L286.4 275.4M287.5 274.8L288.3 274.4L289.3 273.8L289.4 273.8M290.5 273.1L291.3 272.7L292.3 272.1L292.4 272.1M293.5 271.4L294.3 271.0L295.3 270.4L295.4 270.3M296.5 269.7L297.3 269.2L298.3 268.7L298.4 268.6M299.5 267.9L300.3 267.5L301.3 266.9L301.4 266.8M302.5 266.1L303.3 265.7L304.3 265.0L304.4 265.0M305.5 264.3L306.3 263.8L307.3 263.2L307.4 263.1M308.5 262.4L309.3 261.9L310.3 261.3L310.4 261.2M311.5 260.5L312.3 260.0L313.3 259.3L313.4 259.2M314.5 258.5L315.3 258.0L316.3 257.4L316.4 257.3M317.5 256.5L318.3 256.0L319.3 255.4L319.4 255.3M320.5 254.5L321.3 254.0L322.3 253.3L322.4 253.2M323.5 252.5L324.3 251.9L325.2 251.2L325.4 251.1M326.5 250.4L327.5 249.7L328.4 249.0M329.5 248.2L330.5 247.5L331.4 246.9M332.5 246.1L333.5 245.4L334.4 244.7M335.5 243.9L336.5 243.2L337.4 242.5M338.5 241.7L339.5 240.9L340.4 240.2M341.5 239.4L342.5 238.7L343.4 238.0M344.5 237.1L345.5 236.4L346.4 235.6M347.5 234.8L348.5 234.0L349.4 233.3M350.5 232.4L351.5 231.7L352.4 230.9M353.5 230.0L354.5 229.3L355.4 228.5M356.5 227.6L357.5 226.8L358.4 226.1M359.5 225.2L360.5 224.4L361.4 223.6M362.5 222.7L363.5 221.9L364.4 221.1M365.5 220.2L366.5 219.3L367.4 218.5M368.5 217.6L369.4 216.8L370.4 216.0M371.5 215.0L372.4 214.2L373.4 213.4M374.5 212.4L375.4 211.6L376.4 210.7M377.5 209.7L378.4 208.9L379.4 208.1M380.5 207.1L381.4 206.2L382.4 205.4M383.5 204.4L384.4 203.5L385.4 202.6M386.5 201.6L387.4 200.8L388.4 199.9M389.5 198.8L390.4 198.0L391.4 197.1M392.5 196.0L393.4 195.2L394.4 194.2M395.5 193.2L396.4 192.3L397.4 191.4M398.5 190.3L399.4 189.4L400.4 188.5M401.5 187.4L402.4 186.5L403.4 185.6M404.5 184.5L405.4 183.6L406.4 182.6M407.5 181.5L408.4 180.6L409.4 179.6M410.5 178.5L411.4 177.6L412.4 176.6M413.5 175.5L414.4 174.6L415.3 173.6M416.4 172.5L417.4 171.5L418.3 170.6M419.3 169.5L420.1 168.7L421.1 167.7L421.2 167.6M422.2 166.5L423.1 165.6L424.0 164.6M425.1 163.5L425.9 162.7L426.9 161.6L426.9 161.6M427.9 160.5L428.9 159.5L429.7 158.6M430.7 157.5L431.6 156.6L432.5 155.6M433.5 154.5L434.4 153.6L435.3 152.6M436.3 151.5L437.1 150.6L438.0 149.6M439.0 148.5L439.9 147.6L440.7 146.6M441.7 145.5L442.6 144.5L443.4 143.6M444.4 142.5L445.4 141.5L446.1 140.6M447.1 139.5L447.9 138.7L448.8 137.6M449.7 136.5L450.6 135.5L451.4 134.6M452.3 133.5L453.1 132.7L454.0 131.6M454.9 130.5L455.9 129.5L456.6 128.6M457.5 127.5L458.3 126.6L459.2 125.6M460.1 124.5L460.8 123.7L461.7 122.6M462.6 121.5L463.6 120.4L464.2 119.6M465.2 118.5L466.1 117.4L466.8 116.6M467.7 115.5L468.6 114.4L469.2 113.6M470.2 112.5L471.1 111.4L471.7 110.6M472.6 109.5L473.6 108.4L474.2 107.6M475.1 106.5L475.8 105.6L476.6 104.6M477.5 103.5L478.3 102.5L479.0 101.6M479.9 100.5L480.8 99.4L481.5 98.6M482.3 97.5L483.3 96.3L483.8 95.6M484.7 94.5L485.6 93.5L486.2 92.6M487.1 91.5L488.1 90.3L488.6 89.6M489.4 88.5L490.3 87.4L490.9 86.6M491.8 85.5L492.6 84.5L493.3 83.6M494.1 82.5L495.1 81.3L495.6 80.6M496.4 79.5L497.3 78.4L497.9 77.6M498.7 76.5L499.6 75.4L500.2 74.6M501.0 73.5L501.8 72.5L502.4 71.6M503.3 70.5L504.0 69.5L504.7 68.6M505.5 67.5L506.3 66.5L506.9 65.6M507.7 64.5L508.5 63.5L509.2 62.6M510.0 61.5L510.8 60.4L511.4 59.6M512.2 58.5L513.0 57.4L513.6 56.6M514.4 55.5L515.3 54.3L515.8 53.6M516.6 52.5L517.5 51.2L517.9 50.6M518.7 49.5L519.5 48.5L520.1 47.6M520.9 46.5L521.8 45.3L522.3 44.6M523.1 43.5L524.0 42.2L524.4 41.6M525.2 40.5L526.0 39.4L526.5 38.6M527.3 37.5L528.3 36.2L528.7 35.6" stroke="#800000"/>
</g>
<g clip-path="url(#c2)" fill="none" stroke-width="1.80">
<path d="M104.5 632.6L105.5 630.4L106.5 629.3L107.5 628.5L108.5 627.8L109.5 627.3L109.9 627.0M111.8 626.2L112.7 625.8L113.3 625.6M115.1 624.9L116.0 624.6L117.0 624.3L118.0 624.0L119.0 623.7L120.0 623.4L121.0 623.2L121.8 623.0M123.7 622.5L124.5 622.3L125.2 622.2M127.0 621.8L128.0 621.5L129.0 621.3L130.0 621.1L131.0 620.9L132.0 620.7L133.0 620.5L133.7 620.4M135.6 620.0L136.5 619.8L137.1 619.7M138.9 619.3L139.7 619.2L140.7 619.0L141.7 618.8L142.7 618.6L143.7 618.4L144.7 618.2L145.6 618.0M147.5 617.6L148.5 617.5L149.0 617.4M150.8 617.0L151.7 616.8L152.7 616.6L153.7 616.4L154.7 616.2L155.7 616.0L156.7 615.8L157.5 615.6M159.4 615.2L160.2 615.0L160.9 614.9M162.7 614.5L163.7 614.3L164.7 614.0L165.7 613.8L166.7 613.6L167.7 613.4L168.7 613.1L169.4 613.0M171.3 612.5L172.2 612.3L172.8 612.2M174.6 611.7L175.4 611.5L176.4 611.3L177.4 611.0L178.4 610.8L179.4 610.5L180.4 610.3L181.3 610.0M183.2 609.5L184.2 609.3L184.7 609.1M186.5 608.6L187.4 608.4L188.4 608.1L189.4 607.8L190.4 607.6L191.4 607.3L192.4 607.0L193.2 606.7M195.1 606.2L195.9 606.0L196.6 605.8M198.4 605.2L199.4 604.9L200.4 604.6L201.4 604.3L202.4 604.0L203.4 603.6L204.4 603.3L205.1 603.1M207.0 602.5L207.9 602.2L208.5 602.0M210.3 601.4L211.1 601.1L212.1 600.8L213.1 600.4L214.1 600.1L215.1 599.7L216.1 599.4L217.0 599.0M218.9 598.4L219.6 598.1L220.4 597.8M222.2 597.2L223.1 596.8L224.1 596.4L225.1 596.1L226.1 595.7L227.1 595.3L228.1 594.9L228.9 594.6M230.8 593.9L231.6 593.5L232.3 593.3M234.1 592.5L235.1 592.1L236.1 591.7L237.1 591.3L238.1 590.9L239.1 590.5L240.1 590.1L240.8 589.7M242.7 589.0L243.6 588.6L244.2 588.3M246.0 587.5L246.8 587.1L247.8 586.7L248.8 586.2L249.8 585.8L250.8 585.3L251.8 584.9L252.7 584.5M254.6 583.6L255.3 583.3L256.1 582.9M257.9 582.1L258.8 581.6L259.8 581.1L260.8 580.7L261.8 580.2L262.8 579.7L263.8 579.2L264.6 578.8M266.5 577.9L267.3 577.5L268.0 577.1M269.8 576.2L270.8 575.7L271.8 575.2L272.8 574.7L273.8 574.1L274.8 573.6L275.8 573.1L276.5 572.7M278.4 571.7L279.3 571.2L279.9 570.9M281.7 569.9L282.5 569.5L283.5 568.9L284.5 568.4L285.5 567.8L286.5 567.3L287.5 566.7L288.4 566.2M290.3 565.2L291.0 564.7L291.8 564.3M293.6 563.3L294.5 562.7L295.5 562.1L296.5 561.6L297.5 561.0L298.5 560.4L299.5 559.8L300.3 559.3M302.2 558.2L303.0 557.7L303.7 557.3M305.5 556.2L306.3 555.7L307.3 555.1L308.3 554.5L309.3 553.9L310.3 553.2L311.3 552.6L312.2 552.0M314.1 550.8L315.0 550.2L315.6 549.9M317.4 548.7L318.3 548.1L319.3 547.5L320.3 546.8L321.3 546.2L322.3 545.5L323.3 544.9L324.1 544.3M326.0 543.0L326.7 542.5L327.5 542.0M329.3 540.8L330.2 540.1L331.2 539.5L332.2 538.8L333.2 538.1L334.2 537.4L335.2 536.7L336.0 536.2M337.9 534.9L338.7 534.2L339.4 533.8M341.2 532.5L342.0 531.9L343.0 531.2L344.0 530.5L345.0 529.8L346.0 529.0L347.0 528.3L347.9 527.6M349.8 526.3L350.7 525.6L351.3 525.1M353.1 523.8L354.0 523.1L355.0 522.4L356.0 521.6L357.0 520.9L358.0 520.1L359.0 519.3L359.8 518.7M361.7 517.3L362.5 516.7L363.2 516.1M365.0 514.7L366.0 513.9L367.0 513.1L368.0 512.4L368.9 511.6L369.9 510.8L370.9 510.0L371.7 509.4M373.6 507.9L374.4 507.2L375.1 506.7M376.9 505.2L377.7 504.5L378.7 503.7L379.7 502.9L380.7 502.1L381.7 501.2L382.7 500.4L383.6 499.6M385.5 498.1L386.4 497.3L387.0 496.8M388.8 495.3L389.7 494.5L390.7 493.7L391.7 492.8L392.7 492.0L393.7 491.1L394.7 490.3L395.5 489.5M397.4 487.9L398.2 487.2L398.9 486.6M400.7 485.0L401.7 484.1L402.7 483.3L403.7 482.4L404.7 481.5L405.7 480.6L406.7 479.7L407.4 479.0M409.3 477.3L410.2 476.5L410.8 476.0M412.6 474.3L413.4 473.6L414.4 472.7L415.4 471.7L416.4 470.8L417.4 469.9L418.4 469.0L419.3 468.1M421.2 466.4L422.1 465.5L422.7 465.0M424.5 463.2L425.4 462.4L426.4 461.5L427.4 460.5L428.4 459.6L429.4 458.6L430.4 457.6L431.2 456.8M433.1 455.0L433.9 454.3L434.6 453.6M436.4 451.8L437.4 450.9L438.4 449.9L439.4 448.9L440.4 447.9L441.4 446.9L442.4 445.9L443.1 445.2M445.0 443.3L445.9 442.4L446.5 441.8M448.3 440.0L449.1 439.2L450.1 438.1L451.1 437.1L452.1 436.1L453.1 435.1L454.1 434.1L454.9 433.3M456.7 431.4L457.6 430.5L458.1 429.9M459.9 428.1L460.8 427.1L461.8 426.1L462.8 425.0L463.8 424.0L464.8 422.9L465.8 421.9L466.3 421.4M468.0 419.5L468.8 418.7L469.4 418.0M471.2 416.2L472.1 415.2L473.1 414.1L474.1 413.1L475.1 412.0L476.1 410.9L477.1 409.8L477.4 409.5M479.1 407.6L480.1 406.5L480.5 406.1M482.1 404.3L483.1 403.3L484.1 402.1L485.1 401.0L486.1 399.9L487.1 398.8L488.1 397.7L488.2 397.6M489.8 395.7L490.8 394.6L491.2 394.2M492.8 392.4L493.8 391.3L494.8 390.1L495.8 389.0L496.8 387.9L497.8 386.7L498.7 385.7M500.3 383.8L501.3 382.7L501.6 382.3M503.2 380.5L504.0 379.6L505.0 378.4L506.0 377.2L507.0 376.1L508.0 374.9L509.0 373.8M510.6 371.9L511.5 370.8L511.9 370.4M513.4 368.6L514.3 367.6L515.3 366.4L516.3 365.2L517.3 364.0L518.3 362.8L519.1 361.9M520.6 360.0L521.5 358.9L521.9 358.5M523.4 356.7L524.3 355.6L525.3 354.4L526.3 353.2L527.3 352.0L528.3 350.8L528.8 350.2" stroke="#008000"/>
<path d="M104.5 632.6L105.5 631.0L106.5 630.2L107.5 629.5L108.5 628.9L108.7 628.8M110.6 627.8L111.5 627.4L112.5 627.0L113.5 626.5L114.5 626.1L115.4 625.8M117.3 625.0L118.2 624.7L119.2 624.3L120.2 624.0L121.2 623.6L122.1 623.3M124.0 622.7L125.0 622.4L126.0 622.1L127.0 621.8L128.0 621.5L128.8 621.3M130.7 620.7L131.5 620.5L132.5 620.2L133.5 620.0L134.5 619.7L135.5 619.4L135.5 619.4M137.4 618.9L138.2 618.7L139.2 618.5L140.2 618.2L141.2 618.0L142.2 617.8M144.1 617.3L145.0 617.1L146.0 616.9L147.0 616.7L148.0 616.5L148.9 616.3M150.8 615.8L151.7 615.7L152.7 615.5L153.7 615.2L154.7 615.0L155.6 614.9M157.5 614.5L158.4 614.3L159.4 614.1L160.4 613.9L161.4 613.7L162.3 613.6M164.2 613.2L165.2 613.1L166.2 612.9L167.2 612.7L168.2 612.5L169.0 612.4M170.9 612.1L171.7 612.0L172.7 611.8L173.7 611.6L174.7 611.5L175.7 611.3M177.6 611.0L178.4 610.9L179.4 610.7L180.4 610.6L181.4 610.4L182.4 610.3M184.3 610.0L185.2 609.9L186.2 609.8L187.2 609.6L188.2 609.5L189.1 609.3M191.0 609.1L191.9 609.0L192.9 608.8L193.9 608.7L194.9 608.6L195.8 608.5M197.7 608.2L198.6 608.1L199.6 608.0L200.6 607.8L201.6 607.7L202.5 607.6M204.4 607.4L205.4 607.3L206.4 607.2L207.4 607.0L208.4 606.9L209.2 606.8M211.1 606.6L211.9 606.5L212.9 606.4L213.9 606.3L214.9 606.2L215.9 606.1M217.8 605.9L218.6 605.8L219.6 605.7L220.6 605.6L221.6 605.5L222.6 605.4M224.5 605.2L225.4 605.2L226.4 605.1L227.4 605.0L228.4 604.9L229.3 604.8M231.2 604.6L232.1 604.5L233.1 604.4L234.1 604.3L235.1 604.2L236.0 604.2M237.9 604.0L238.8 603.9L239.8 603.8L240.8 603.8L241.8 603.7L242.7 603.6M244.6 603.4L245.6 603.4L246.6 603.3L247.6 603.2L248.6 603.1L249.4 603.1M251.3 602.9L252.1 602.9L253.1 602.8L254.1 602.7L255.1 602.6L256.1 602.6M258.0 602.4L258.8 602.4L259.8 602.3L260.8 602.2L261.8 602.1L262.8 602.1M264.7 601.9L265.6 601.9L266.6 601.8L267.6 601.8L268.6 601.7L269.5 601.6M271.4 601.5L272.3 601.4L273.3 601.4L274.3 601.3L275.3 601.3L276.2 601.2M278.1 601.1L279.1 601.0L280.1 601.0L281.0 600.9L282.0 600.8L282.9 600.8M284.8 600.7L285.8 600.6L286.8 600.6L287.8 600.5L288.8 600.5L289.6 600.4M291.5 600.3L292.3 600.3L293.3 600.2L294.3 600.2L295.3 600.1L296.3 600.1M298.2 600.0L299.0 599.9L300.0 599.9L301.0 599.8L302.0 599.8L303.0 599.7M304.9 599.6L305.8 599.6L306.8 599.5L307.8 599.5L308.8 599.5L309.7 599.4M311.6 599.3L312.5 599.3L313.5 599.2L314.5 599.2L315.5 599.2L316.4 599.1M318.3 599.0L319.3 599.0L320.3 599.0L321.3 598.9L322.3 598.9L323.1 598.8M325.0 598.8L326.0 598.7L327.0 598.7L328.0 598.6L329.0 598.6L329.8 598.6M331.7 598.5L332.5 598.5L333.5 598.4L334.5 598.4L335.5 598.4L336.5 598.3M338.4 598.3L339.2 598.2L340.2 598.2L341.2 598.2L342.2 598.1L343.2 598.1M345.1 598.0L346.0 598.0L347.0 598.0L348.0 597.9L349.0 597.9L349.9 597.9M351.8 597.8L352.7 597.8L353.7 597.8L354.7 597.7L355.7 597.7L356.6 597.7M358.5 597.6L359.5 597.6L360.5 597.6L361.5 597.5L362.5 597.5L363.3 597.5M365.2 597.4L366.2 597.4L367.2 597.4L368.2 597.4L369.2 597.3L370.0 597.3M371.9 597.3L372.7 597.3L373.7 597.2L374.7 597.2L375.7 597.2L376.7 597.2M378.6 597.1L379.4 597.1L380.4 597.1L381.4 597.1L382.4 597.0L383.4 597.0M385.3 597.0L386.2 597.0L387.2 596.9L388.2 596.9L389.2 596.9L390.1 596.9M392.0 596.9L392.9 596.8L393.9 596.8L394.9 596.8L395.9 596.8L396.8 596.8M398.7 596.7L399.7 596.7L400.7 596.7L401.7 596.7L402.7 596.7L403.5 596.7M405.4 596.6L406.4 596.6L407.4 596.6L408.4 596.6L409.4 596.6L410.2 596.6M412.1 596.6L412.9 596.5L413.9 596.5L414.9 596.5L415.9 596.5L416.9 596.5M418.8 596.5L419.6 596.5L420.6 596.5L421.6 596.4L422.6 596.4L423.6 596.4M425.5 596.4L426.4 596.4L427.4 596.4L428.4 596.4L429.4 596.4L430.3 596.4M432.2 596.4L433.1 596.4L434.1 596.3L435.1 596.3L436.1 596.3L437.0 596.3M438.9 596.3L439.9 596.3L440.9 596.3L441.9 596.3L442.9 596.3L443.7 596.3M445.6 596.3L446.6 596.3L447.6 596.3L448.6 596.3L449.6 596.3L450.4 596.3M452.3 596.3L453.1 596.3L454.1 596.3L455.1 596.3L456.1 596.3L457.1 596.3M459.0 596.3L459.8 596.3L460.8 596.3L461.8 596.3L462.8 596.3L463.8 596.3M465.7 596.3L466.6 596.3L467.6 596.3L468.6 596.3L469.6 596.3L470.5 596.3M472.4 596.3L473.3 596.3L474.3 596.3L475.3 596.3L476.3 596.3L477.2 596.3M479.1 596.3L480.1 596.4L481.1 596.4L482.1 596.4L483.1 596.4L483.9 596.4M485.8 596.4L486.8 596.4L487.8 596.4L488.8 596.4L489.8 596.4L490.6 596.4M492.5 596.5L493.3 596.5L494.3 596.5L495.3 596.5L496.3 596.5L497.3 596.5M499.2 596.5L500.1 596.5L501.0 596.6L502.0 596.6L503.0 596.6L504.0 596.6M505.9 596.6L506.8 596.6L507.8 596.6L508.8 596.7L509.8 596.7L510.7 596.7M512.6 596.7L513.5 596.7L514.5 596.8L515.5 596.8L516.5 596.8L517.4 596.8M519.3 596.8L520.3 596.9L521.3 596.9L522.3 596.9L523.3 596.9L524.1 596.9M526.0 597.0L526.8 597.0L527.8 597.0L528.8 597.0" stroke="#0000ff"/>
<path d="M104.5 632.6L105.5 631.0L106.4 630.2L107.4 629.6L108.4 629.1L108.7 628.9M110.6 628.0L111.6 627.6L112.5 627.2L113.5 626.9L114.5 626.5L115.4 626.3M117.3 625.6L118.1 625.4L119.1 625.1L120.1 624.8L121.1 624.6L122.0 624.3L122.1 624.3M124.0 623.8L125.0 623.6L125.9 623.3L126.9 623.1L127.9 622.9L128.8 622.6M130.7 622.2L131.5 622.0L132.5 621.8L133.5 621.6L134.5 621.4L135.4 621.2L135.5 621.2M137.4 620.7L138.4 620.5L139.3 620.3L140.3 620.1L141.3 619.9L142.2 619.8M144.1 619.4L144.9 619.2L145.9 619.0L146.9 618.8L147.9 618.6L148.8 618.4L148.9 618.4M150.8 618.0L151.8 617.9L152.7 617.7L153.7 617.5L154.7 617.3L155.6 617.1M157.5 616.7L158.3 616.6L159.3 616.4L160.3 616.2L161.3 616.0L162.2 615.8L162.3 615.8M164.2 615.5L165.2 615.3L166.1 615.1L167.1 614.9L168.1 614.7L169.0 614.6M170.9 614.2L171.7 614.0L172.7 613.8L173.7 613.6L174.7 613.5L175.6 613.3L175.7 613.3M177.6 612.9L178.6 612.7L179.5 612.5L180.5 612.3L181.5 612.1L182.4 612.0M184.3 611.6L185.1 611.4L186.1 611.2L187.1 611.0L188.1 610.9L189.0 610.7L189.1 610.7M191.0 610.3L192.0 610.1L192.9 609.9L193.9 609.7L194.9 609.5L195.8 609.3M197.7 608.9L198.5 608.8L199.5 608.6L200.5 608.4L201.5 608.2L202.4 608.0L202.5 608.0M204.4 607.6L205.4 607.4L206.3 607.2L207.3 607.0L208.3 606.8L209.2 606.6M211.1 606.2L211.9 606.0L212.9 605.8L213.9 605.6L214.9 605.4L215.8 605.2L215.9 605.2M217.8 604.8L218.8 604.6L219.7 604.4L220.7 604.1L221.7 603.9L222.6 603.7M224.5 603.3L225.3 603.1L226.3 602.9L227.3 602.7L228.3 602.5L229.2 602.3L229.3 602.3M231.2 601.8L232.2 601.6L233.1 601.4L234.1 601.2L235.1 601.0L236.0 600.8M237.9 600.3L238.7 600.2L239.7 599.9L240.7 599.7L241.7 599.5L242.6 599.3L242.7 599.3M244.6 598.8L245.6 598.6L246.5 598.4L247.5 598.1L248.5 597.9L249.4 597.7M251.3 597.2L252.1 597.0L253.1 596.8L254.1 596.6L255.1 596.4L256.0 596.1L256.1 596.1M258.0 595.6L259.0 595.4L259.9 595.2L260.9 594.9L261.9 594.7L262.8 594.5M264.7 594.0L265.5 593.8L266.5 593.6L267.5 593.3L268.5 593.1L269.4 592.9L269.5 592.8M271.4 592.4L272.4 592.1L273.3 591.9L274.3 591.6L275.3 591.4L276.2 591.2M278.1 590.7L278.9 590.5L279.9 590.2L280.9 590.0L281.9 589.7L282.8 589.5L282.9 589.5M284.8 588.9L285.8 588.7L286.7 588.5L287.7 588.2L288.7 587.9L289.6 587.7M291.5 587.2L292.3 587.0L293.3 586.7L294.3 586.5L295.3 586.2L296.2 585.9L296.3 585.9M298.2 585.4L299.2 585.2L300.1 584.9L301.1 584.6L302.1 584.4L303.0 584.1M304.9 583.6L305.7 583.4L306.7 583.1L307.7 582.8L308.7 582.6L309.6 582.3L309.7 582.3M311.6 581.8L312.6 581.5L313.5 581.2L314.5 581.0L315.5 580.7L316.4 580.4M318.3 579.9L319.1 579.7L320.1 579.4L321.1 579.1L322.1 578.8L323.0 578.6L323.1 578.5M325.0 578.0L326.0 577.7L326.9 577.4L327.9 577.2L328.9 576.9L329.8 576.6M331.7 576.1L332.5 575.8L333.5 575.5L334.5 575.3L335.5 575.0L336.4 574.7L336.5 574.7M338.4 574.1L339.4 573.8L340.3 573.5L341.3 573.2L342.3 573.0L343.2 572.7M345.1 572.1L345.9 571.9L346.9 571.6L347.9 571.3L348.9 571.0L349.8 570.7L349.9 570.7M351.8 570.1L352.8 569.8L353.7 569.5L354.7 569.2L355.7 568.9L356.6 568.7M358.5 568.1L359.3 567.8L360.3 567.5L361.3 567.2L362.3 566.9L363.2 566.6L363.3 566.6M365.2 566.0L366.2 565.7L367.1 565.4L368.1 565.1L369.1 564.8L370.0 564.5M371.9 563.9L372.7 563.7L373.7 563.4L374.7 563.0L375.7 562.7L376.6 562.4L376.7 562.4M378.6 561.8L379.6 561.5L380.5 561.2L381.5 560.9L382.5 560.6L383.4 560.3M385.3 559.7L386.1 559.4L387.1 559.1L388.1 558.8L389.1 558.5L390.0 558.1L390.1 558.1M392.0 557.5L393.0 557.2L393.9 556.9L394.9 556.6L395.9 556.2L396.8 556.0M398.7 555.3L399.5 555.1L400.5 554.7L401.5 554.4L402.5 554.1L403.4 553.8L403.5 553.8M405.4 553.1L406.4 552.8L407.3 552.5L408.3 552.2L409.3 551.8L410.2 551.5M412.1 550.9L412.9 550.6L413.9 550.3L414.9 550.0L415.9 549.6L416.8 549.3L416.9 549.3M418.8 548.6L419.8 548.3L420.7 548.0L421.7 547.7L422.7 547.3L423.6 547.0M425.5 546.4L426.3 546.1L427.3 545.8L428.3 545.4L429.3 545.1L430.2 544.8L430.3 544.8M432.2 544.1L433.2 543.8L434.1 543.4L435.1 543.1L436.1 542.8L437.0 542.5M438.9 541.8L439.7 541.5L440.7 541.2L441.7 540.8L442.7 540.5L443.6 540.1L443.7 540.1M445.6 539.5L446.6 539.1L447.5 538.8L448.5 538.4L449.5 538.1L450.4 537.8M452.3 537.1L453.1 536.8L454.1 536.5L455.1 536.1L456.1 535.8L457.0 535.5L457.1 535.4M459.0 534.8L459.9 534.4L460.9 534.1L461.9 533.7L462.9 533.4L463.8 533.1M465.7 532.4L466.5 532.1L467.5 531.7L468.5 531.4L469.5 531.0L470.4 530.7L470.5 530.7M472.4 530.0L473.3 529.7L474.3 529.3L475.3 529.0L476.3 528.6L477.2 528.3M479.1 527.6L479.9 527.3L480.9 526.9L481.9 526.6L482.9 526.2L483.8 525.9L483.9 525.9M485.8 525.2L486.7 524.8L487.7 524.5L488.7 524.1L489.7 523.8L490.6 523.4M492.5 522.7L493.3 522.4L494.3 522.1L495.3 521.7L496.3 521.4L497.2 521.0L497.3 521.0M499.2 520.3L500.1 519.9L501.1 519.6L502.1 519.2L503.1 518.9L504.0 518.5M505.9 517.8L506.7 517.5L507.7 517.2L508.7 516.8L509.6 516.4L510.6 516.1L510.7 516.1M512.6 515.3L513.5 515.0L514.5 514.6L515.5 514.3L516.5 513.9L517.4 513.6" stroke="#ff0000"/>
<path d="M104.5 632.6L105.5 630.7L105.5 630.7M106.6 629.9L107.5 629.4L108.5 628.9L108.5 628.9M109.6 628.5L110.5 628.1L111.5 627.7L111.5 627.7M112.6 627.3L113.5 627.0L114.5 626.7L114.5 626.7M115.6 626.3L116.5 626.1L117.5 625.8L117.5 625.8M118.6 625.4L119.5 625.2L120.5 624.9L120.5 624.9M121.6 624.6L122.5 624.3L123.5 624.1L123.5 624.1M124.6 623.8L125.5 623.6L126.5 623.3L126.5 623.3M127.6 623.0L128.5 622.8L129.5 622.5L129.5 622.5M130.6 622.3L131.5 622.1L132.5 621.8L132.5 621.8M133.6 621.5L134.5 621.4L135.5 621.1L135.5 621.1M136.6 620.9L137.5 620.7L138.5 620.4L138.5 620.4M139.6 620.2L140.5 620.0L141.5 619.8L141.5 619.8M142.6 619.5L143.5 619.4L144.5 619.2L144.5 619.1M145.6 618.9L146.5 618.7L147.5 618.5L147.5 618.5M148.6 618.3L149.4 618.1L150.4 617.9L150.5 617.9M151.6 617.7L152.4 617.5L153.4 617.3L153.5 617.3M154.6 617.1L155.4 616.9L156.4 616.7L156.5 616.7M157.6 616.5L158.4 616.4L159.4 616.2L159.5 616.2M160.6 616.0L161.4 615.8L162.4 615.6L162.5 615.6M163.6 615.4L164.4 615.2L165.4 615.1L165.5 615.0M166.6 614.8L167.4 614.7L168.4 614.5L168.5 614.5M169.6 614.3L170.4 614.1L171.4 614.0L171.5 614.0M172.6 613.8L173.4 613.6L174.4 613.4L174.5 613.4M175.6 613.2L176.4 613.1L177.4 612.9L177.5 612.9M178.6 612.7L179.4 612.5L180.4 612.4L180.5 612.4M181.6 612.2L182.4 612.0L183.4 611.8L183.5 611.8M184.6 611.6L185.4 611.5L186.4 611.3L186.5 611.3M187.6 611.1L188.4 611.0L189.4 610.8L189.5 610.8M190.6 610.6L191.4 610.5L192.4 610.3L192.5 610.3M193.6 610.1L194.4 609.9L195.4 609.8L195.5 609.7M196.6 609.5L197.4 609.4L198.4 609.2L198.5 609.2M199.6 609.0L200.4 608.9L201.4 608.7L201.5 608.7M202.6 608.5L203.4 608.4L204.4 608.2L204.5 608.2M205.6 608.0L206.4 607.8L207.4 607.7L207.5 607.6M208.6 607.4L209.4 607.3L210.4 607.1L210.5 607.1M211.6 606.9L212.4 606.8L213.4 606.6L213.5 606.6M214.6 606.4L215.4 606.2L216.4 606.1L216.5 606.0M217.6 605.8L218.6 605.7L219.5 605.5M220.6 605.3L221.6 605.1L222.5 605.0M223.6 604.8L224.6 604.6L225.5 604.4M226.6 604.2L227.6 604.0L228.5 603.9M229.6 603.6L230.6 603.5L231.5 603.3M232.6 603.1L233.6 602.9L234.5 602.7M235.6 602.5L236.6 602.3L237.5 602.2M238.6 601.9L239.6 601.8L240.5 601.6M241.6 601.4L242.6 601.2L243.5 601.0M244.6 600.8L245.6 600.6L246.5 600.4M247.6 600.2L248.6 600.0L249.5 599.8M250.6 599.6L251.6 599.4L252.5 599.2M253.6 599.0L254.6 598.8L255.5 598.6M256.6 598.4L257.6 598.2L258.5 598.0M259.6 597.8L260.6 597.6L261.5 597.4M262.6 597.1L263.6 596.9L264.5 596.7M265.6 596.5L266.6 596.3L267.5 596.1M268.6 595.8L269.6 595.6L270.5 595.4M271.6 595.2L272.6 595.0L273.5 594.8M274.6 594.5L275.6 594.3L276.5 594.1M277.6 593.9L278.6 593.7L279.5 593.4M280.6 593.2L281.5 593.0L282.5 592.7M283.6 592.5L284.5 592.3L285.5 592.1M286.6 591.8L287.5 591.6L288.5 591.4M289.6 591.1L290.5 590.9L291.5 590.6M292.6 590.4L293.5 590.2L294.5 589.9M295.6 589.7L296.5 589.4L297.5 589.2M298.6 588.9L299.5 588.7L300.5 588.5M301.6 588.2L302.5 588.0L303.5 587.7L303.5 587.7M304.6 587.4L305.5 587.2L306.5 586.9L306.5 586.9M307.6 586.7L308.5 586.4L309.5 586.2L309.5 586.2M310.6 585.9L311.5 585.7L312.5 585.4L312.5 585.4M313.6 585.1L314.5 584.9L315.5 584.6L315.5 584.6M316.6 584.3L317.5 584.1L318.5 583.8L318.5 583.8M319.6 583.5L320.5 583.3L321.5 583.0L321.5 583.0M322.6 582.7L323.5 582.5L324.5 582.2L324.5 582.2M325.6 581.9L326.5 581.6L327.5 581.4L327.5 581.4M328.6 581.1L329.5 580.8L330.5 580.5L330.5 580.5M331.6 580.2L332.5 580.0L333.5 579.7L333.5 579.7M334.6 579.4L335.5 579.1L336.5 578.8L336.5 578.8M337.6 578.5L338.5 578.3L339.5 578.0L339.5 578.0M340.6 577.6L341.5 577.4L342.5 577.1L342.5 577.1M343.6 576.8L344.5 576.5L345.5 576.2L345.5 576.2M346.6 575.9L347.5 575.6L348.5 575.3L348.5 575.3M349.6 575.0L350.5 574.7L351.5 574.4L351.5 574.4M352.6 574.1L353.5 573.8L354.5 573.5L354.5 573.5M355.6 573.1L356.5 572.9L357.5 572.6L357.5 572.6M358.6 572.2L359.5 572.0L360.5 571.6L360.5 571.6M361.6 571.3L362.5 571.0L363.5 570.7L363.5 570.7M364.6 570.3L365.5 570.1L366.5 569.7L366.5 569.7M367.6 569.4L368.5 569.1L369.4 568.8L369.5 568.8M370.6 568.4L371.4 568.1L372.4 567.8L372.5 567.8M373.6 567.4L374.4 567.2L375.4 566.8L375.5 566.8M376.6 566.4L377.4 566.2L378.4 565.8L378.5 565.8M379.6 565.4L380.4 565.2L381.4 564.8L381.5 564.8M382.6 564.4L383.4 564.2L384.4 563.8L384.5 563.8M385.6 563.4L386.4 563.1L387.4 562.8L387.5 562.8M388.6 562.4L389.4 562.1L390.4 561.8L390.5 561.7M391.6 561.4L392.4 561.1L393.4 560.7L393.5 560.7M394.6 560.3L395.4 560.0L396.4 559.7L396.5 559.6M397.6 559.3L398.4 559.0L399.4 558.6L399.5 558.6M400.6 558.2L401.4 557.9L402.4 557.6L402.5 557.5M403.6 557.1L404.4 556.8L405.4 556.5L405.5 556.4M406.6 556.0L407.4 555.8L408.4 555.4L408.5 555.4M409.6 555.0L410.4 554.7L411.4 554.3L411.5 554.3M412.6 553.9L413.4 553.6L414.4 553.2L414.5 553.2M415.6 552.7L416.4 552.5L417.4 552.1L417.5 552.0M418.6 551.6L419.4 551.3L420.4 551.0L420.5 550.9M421.6 550.5L422.4 550.2L423.4 549.8L423.5 549.8M424.6 549.4L425.4 549.1L426.4 548.7L426.5 548.7M427.6 548.2L428.4 547.9L429.4 547.6L429.5 547.5M430.6 547.1L431.4 546.8L432.4 546.4L432.5 546.4M433.6 545.9L434.4 545.6L435.4 545.2L435.5 545.2M436.6 544.8L437.6 544.4L438.5 544.0M439.6 543.6L440.6 543.2L441.5 542.8M442.6 542.4L443.6 542.0L444.5 541.7M445.6 541.2L446.6 540.8L447.5 540.5M448.6 540.0L449.6 539.6L450.5 539.3M451.6 538.8L452.6 538.4L453.5 538.0M454.6 537.6L455.6 537.2L456.5 536.8M457.6 536.4L458.6 536.0L459.5 535.6M460.6 535.1L461.6 534.7L462.5 534.4M463.6 533.9L464.6 533.5L465.5 533.1M466.6 532.7L467.6 532.3L468.5 531.9M469.6 531.4L470.6 531.0L471.5 530.6M472.6 530.2L473.6 529.8L474.5 529.4M475.6 528.9L476.6 528.5L477.5 528.1M478.6 527.6L479.6 527.2L480.5 526.8M481.6 526.4L482.6 525.9L483.5 525.5M484.6 525.1L485.6 524.7L486.5 524.3M487.6 523.8L488.6 523.4L489.5 523.0M490.6 522.5L491.6 522.1L492.5 521.7M493.6 521.2L494.6 520.8L495.5 520.4M496.6 519.9L497.6 519.5L498.5 519.0M499.6 518.6L500.6 518.2L501.5 517.7M502.6 517.2L503.5 516.8L504.5 516.4M505.6 515.9L506.5 515.5L507.5 515.1M508.6 514.6L509.5 514.2L510.5 513.7M511.6 513.3L512.5 512.8L513.5 512.4M514.6 511.9L515.5 511.5L516.5 511.1M517.6 510.6L518.5 510.2L519.5 509.7M520.6 509.2L521.5 508.8L522.5 508.4M523.6 507.9L524.5 507.5L525.5 507.0L525.5 507.0M526.6 506.5L527.5 506.1L528.5 505.6L528.5 505.6" stroke="#800000"/>
<path d="M104.5 632.6L105.4 630.7M106.5 629.9L107.5 629.4L108.4 629.0M109.5 628.5L110.5 628.1L111.4 627.8M112.5 627.4L113.5 627.1L114.4 626.8M115.5 626.4L116.5 626.1L117.4 625.8M118.5 625.5L119.5 625.2L120.4 624.9M121.5 624.6L122.5 624.4L123.4 624.1M124.5 623.8L125.5 623.5L126.4 623.3M127.5 623.0L128.5 622.7L129.4 622.5M130.5 622.2L131.5 622.0L132.4 621.7M133.5 621.5L134.5 621.2L135.4 621.0M136.5 620.8L137.5 620.5L138.4 620.3M139.5 620.1L140.5 619.9L141.4 619.6M142.5 619.4L143.5 619.2L144.4 619.0M145.5 618.8L146.5 618.6L147.4 618.4M148.5 618.1L149.4 617.9L150.4 617.7M151.5 617.5L152.4 617.4L153.4 617.2L153.4 617.2M154.5 616.9L155.4 616.8L156.4 616.6L156.4 616.6M157.5 616.4L158.4 616.2L159.4 616.0L159.4 616.0M160.5 615.8L161.4 615.7L162.4 615.5L162.4 615.5M163.5 615.3L164.4 615.1L165.4 615.0L165.4 615.0M166.5 614.8L167.4 614.6L168.4 614.5L168.4 614.5M169.5 614.3L170.4 614.1L171.4 614.0L171.4 614.0M172.5 613.8L173.4 613.6L174.4 613.5L174.4 613.5M175.5 613.3L176.4 613.2L177.4 613.0L177.4 613.0M178.5 612.8L179.4 612.7L180.4 612.5L180.4 612.5M181.5 612.4L182.4 612.2L183.4 612.1L183.4 612.1M184.5 611.9L185.4 611.8L186.4 611.6L186.4 611.6M187.5 611.5L188.4 611.3L189.4 611.2L189.4 611.2M190.5 611.0L191.4 610.9L192.4 610.8L192.4 610.8M193.5 610.6L194.4 610.5L195.4 610.3L195.4 610.3M196.5 610.2L197.4 610.1L198.4 609.9L198.4 609.9M199.5 609.8L200.4 609.6L201.4 609.5L201.4 609.5M202.5 609.3L203.4 609.2L204.4 609.1L204.4 609.1M205.5 608.9L206.4 608.8L207.4 608.7L207.4 608.7M208.5 608.5L209.4 608.4L210.4 608.3L210.4 608.3M211.5 608.1L212.4 608.0L213.4 607.9L213.4 607.9M214.5 607.7L215.4 607.6L216.4 607.5L216.4 607.5M217.5 607.3L218.4 607.2L219.4 607.1L219.4 607.0M220.5 606.9L221.4 606.8L222.4 606.7L222.4 606.6M223.5 606.5L224.4 606.4L225.4 606.3L225.4 606.2M226.5 606.1L227.4 606.0L228.4 605.8L228.4 605.8M229.5 605.7L230.4 605.6L231.4 605.4L231.4 605.4M232.5 605.3L233.4 605.2L234.4 605.0L234.4 605.0M235.5 604.9L236.4 604.8L237.3 604.6L237.4 604.6M238.5 604.5L239.3 604.4L240.3 604.2L240.4 604.2M241.5 604.0L242.3 603.9L243.3 603.8L243.4 603.8M244.5 603.6L245.3 603.5L246.3 603.4L246.4 603.4M247.5 603.2L248.3 603.1L249.3 603.0L249.4 602.9M250.5 602.8L251.3 602.7L252.3 602.5L252.4 602.5M253.5 602.4L254.3 602.2L255.3 602.1L255.4 602.1M256.5 601.9L257.3 601.8L258.3 601.7L258.4 601.7M259.5 601.5L260.3 601.4L261.3 601.2L261.4 601.2M262.5 601.0L263.3 600.9L264.3 600.8L264.4 600.8M265.5 600.6L266.3 600.5L267.3 600.3L267.4 600.3M268.5 600.1L269.3 600.0L270.3 599.9L270.4 599.9M271.5 599.7L272.3 599.6L273.3 599.4L273.4 599.4M274.5 599.2L275.3 599.1L276.3 598.9L276.4 598.9M277.5 598.7L278.3 598.6L279.3 598.5L279.4 598.4M280.5 598.3L281.3 598.1L282.3 598.0L282.4 598.0M283.5 597.8L284.3 597.6L285.3 597.5L285.4 597.5M286.5 597.3L287.5 597.1L288.4 597.0M289.5 596.8L290.5 596.6L291.4 596.4M292.5 596.3L293.5 596.1L294.4 595.9M295.5 595.7L296.5 595.6L297.4 595.4M298.5 595.2L299.5 595.0L300.4 594.9M301.5 594.7L302.5 594.5L303.4 594.3M304.5 594.1L305.5 594.0L306.4 593.8M307.5 593.6L308.5 593.4L309.4 593.2M310.5 593.0L311.5 592.8L312.4 592.7M313.5 592.4L314.5 592.3L315.4 592.1M316.5 591.9L317.5 591.7L318.4 591.5M319.5 591.3L320.5 591.1L321.4 590.9M322.5 590.7L323.5 590.5L324.4 590.3M325.5 590.1L326.5 589.9L327.4 589.7M328.5 589.4L329.5 589.2L330.4 589.0M331.5 588.8L332.5 588.6L333.4 588.4M334.5 588.2L335.5 588.0L336.4 587.8M337.5 587.5L338.5 587.3L339.4 587.1M340.5 586.9L341.5 586.7L342.4 586.4M343.5 586.2L344.5 586.0L345.4 585.8M346.5 585.5L347.5 585.3L348.4 585.1M349.5 584.8L350.5 584.6L351.4 584.4M352.5 584.1L353.5 583.9L354.4 583.7M355.5 583.4L356.5 583.2L357.4 583.0M358.5 582.7L359.5 582.5L360.4 582.2M361.5 582.0L362.5 581.7L363.4 581.5M364.5 581.2L365.5 581.0L366.4 580.7M367.5 580.5L368.5 580.2L369.4 580.0M370.5 579.7L371.4 579.5L372.4 579.2L372.4 579.2M373.5 578.9L374.4 578.7L375.4 578.4L375.4 578.4M376.5 578.1L377.4 577.9L378.4 577.6L378.4 577.6M379.5 577.3L380.4 577.1L381.4 576.8L381.4 576.8M382.5 576.5L383.4 576.3L384.4 576.0L384.4 576.0M385.5 575.7L386.4 575.5L387.4 575.2L387.4 575.2M388.5 574.9L389.4 574.6L390.4 574.3L390.4 574.3M391.5 574.0L392.4 573.8L393.4 573.5L393.4 573.5M394.5 573.2L395.4 572.9L396.4 572.6L396.4 572.6M397.5 572.3L398.4 572.0L399.4 571.8L399.4 571.7M400.5 571.4L401.4 571.2L402.4 570.9L402.4 570.9M403.5 570.5L404.4 570.3L405.4 570.0L405.4 570.0M406.5 569.6L407.4 569.4L408.4 569.1L408.4 569.1M409.5 568.7L410.4 568.5L411.4 568.2L411.4 568.1M412.5 567.8L413.4 567.5L414.4 567.2L414.4 567.2M415.5 566.9L416.4 566.6L417.4 566.3L417.4 566.3M418.5 565.9L419.4 565.7L420.4 565.3L420.4 565.3M421.5 565.0L422.4 564.7L423.4 564.4L423.4 564.4M424.5 564.0L425.4 563.7L426.4 563.4L426.4 563.4M427.5 563.0L428.4 562.8L429.4 562.4L429.4 562.4M430.5 562.0L431.4 561.8L432.4 561.4L432.4 561.4M433.5 561.1L434.4 560.8L435.4 560.4L435.4 560.4M436.5 560.0L437.4 559.8L438.4 559.4L438.4 559.4M439.5 559.0L440.4 558.7L441.4 558.4L441.4 558.4M442.5 558.0L443.4 557.7L444.4 557.4L444.4 557.3M445.5 557.0L446.4 556.7L447.4 556.3L447.4 556.3M448.5 555.9L449.4 555.6L450.4 555.3L450.4 555.2M451.5 554.8L452.4 554.5L453.4 554.2L453.4 554.2M454.5 553.8L455.4 553.5L456.4 553.1L456.4 553.1M457.5 552.7L458.3 552.4L459.3 552.0L459.4 552.0M460.5 551.6L461.3 551.3L462.3 550.9L462.4 550.9M463.5 550.5L464.3 550.2L465.3 549.8L465.4 549.8M466.5 549.4L467.3 549.1L468.3 548.7L468.4 548.7M469.5 548.2L470.3 547.9L471.3 547.6L471.4 547.5M472.5 547.1L473.3 546.8L474.3 546.4L474.4 546.4M475.5 546.0L476.3 545.7L477.3 545.3L477.4 545.2M478.5 544.8L479.3 544.5L480.3 544.1L480.4 544.1M481.5 543.6L482.3 543.3L483.3 542.9L483.4 542.9M484.5 542.5L485.3 542.2L486.3 541.8L486.4 541.7M487.5 541.3L488.3 541.0L489.3 540.6L489.4 540.5M490.5 540.1L491.3 539.8L492.3 539.4L492.4 539.3M493.5 538.9L494.3 538.6L495.3 538.2L495.4 538.1M496.5 537.7L497.3 537.3L498.3 536.9L498.4 536.9M499.5 536.4L500.3 536.1L501.3 535.7L501.4 535.6M502.5 535.2L503.3 534.9L504.3 534.5L504.4 534.4M505.5 533.9L506.5 533.5L507.4 533.2M508.5 532.7L509.5 532.3L510.4 531.9M511.5 531.4L512.5 531.0L513.4 530.6M514.5 530.2L515.5 529.7L516.4 529.3M517.5 528.9L518.5 528.5L519.4 528.1M520.5 527.6L521.5 527.2L522.4 526.8M523.5 526.3L524.5 525.9L525.4 525.5M526.5 525.0L527.5 524.5L528.4 524.1" stroke="#000000"/>
<path d="M104.5 632.6L105.5 630.9L105.7 630.7M106.8 629.9L107.7 629.4L108.7 628.9M109.8 628.4L110.7 628.0L111.7 627.6M112.8 627.2L113.7 626.9L114.7 626.5M115.8 626.2L116.7 625.9L117.7 625.6M118.8 625.3L119.7 625.0L120.7 624.7M121.8 624.4L122.7 624.2L123.7 623.9M124.8 623.6L125.7 623.4L126.7 623.1M127.8 622.9L128.7 622.6L129.7 622.4M130.8 622.2L131.7 621.9L132.7 621.7M133.8 621.5L134.7 621.3L135.7 621.0M136.8 620.8L137.7 620.6L138.7 620.4M139.8 620.2L140.7 620.0L141.7 619.8M142.8 619.5L143.7 619.4L144.7 619.1M145.8 618.9L146.7 618.7L147.7 618.5L147.7 618.5M148.8 618.3L149.7 618.2L150.7 618.0L150.7 618.0M151.8 617.7L152.7 617.6L153.7 617.4L153.7 617.4M154.8 617.2L155.7 617.0L156.7 616.8L156.7 616.8M157.8 616.6L158.7 616.4L159.7 616.2L159.7 616.2M160.8 616.0L161.7 615.9L162.7 615.7L162.7 615.7M163.8 615.5L164.7 615.3L165.7 615.1L165.7 615.1M166.8 614.9L167.7 614.8L168.7 614.6L168.7 614.6M169.8 614.4L170.7 614.2L171.7 614.0L171.7 614.0M172.8 613.8L173.7 613.7L174.7 613.5L174.7 613.5M175.8 613.3L176.7 613.1L177.7 613.0L177.7 612.9M178.8 612.7L179.7 612.6L180.7 612.4L180.7 612.4M181.8 612.2L182.7 612.0L183.7 611.9L183.7 611.9M184.8 611.7L185.7 611.5L186.7 611.3L186.7 611.3M187.8 611.1L188.7 611.0L189.7 610.8L189.7 610.8M190.8 610.6L191.7 610.4L192.6 610.2L192.7 610.2M193.8 610.0L194.6 609.9L195.6 609.7L195.7 609.7M196.8 609.5L197.6 609.3L198.6 609.1L198.7 609.1M199.8 608.9L200.6 608.7L201.6 608.6L201.7 608.6M202.8 608.3L203.6 608.2L204.6 608.0L204.7 608.0M205.8 607.8L206.6 607.6L207.6 607.4L207.7 607.4M208.8 607.2L209.6 607.1L210.6 606.9L210.7 606.8M211.8 606.6L212.6 606.5L213.6 606.3L213.7 606.3M214.8 606.1L215.6 605.9L216.6 605.7L216.7 605.7M217.8 605.5L218.6 605.3L219.6 605.1L219.7 605.1M220.8 604.9L221.6 604.7L222.6 604.5L222.7 604.5M223.8 604.3L224.6 604.1L225.6 603.9L225.7 603.9M226.8 603.7L227.6 603.5L228.6 603.3L228.7 603.3M229.8 603.0L230.6 602.9L231.6 602.7L231.7 602.7M232.8 602.4L233.6 602.3L234.6 602.0L234.7 602.0M235.8 601.8L236.6 601.6L237.6 601.4L237.7 601.4M238.8 601.2L239.6 601.0L240.6 600.8L240.7 600.7M241.8 600.5L242.6 600.3L243.6 600.1L243.7 600.1M244.8 599.8L245.6 599.7L246.6 599.5L246.7 599.4M247.8 599.2L248.6 599.0L249.6 598.8L249.7 598.8M250.8 598.5L251.6 598.3L252.6 598.1L252.7 598.1M253.8 597.8L254.6 597.6L255.6 597.4L255.7 597.4M256.8 597.1L257.6 596.9L258.6 596.7L258.7 596.7M259.8 596.4L260.6 596.2L261.6 596.0L261.7 596.0M262.8 595.7L263.6 595.5L264.6 595.3L264.7 595.3M265.8 595.0L266.6 594.8L267.6 594.6L267.7 594.5M268.8 594.3L269.6 594.1L270.6 593.8L270.7 593.8M271.8 593.5L272.6 593.3L273.6 593.1L273.7 593.0M274.8 592.7L275.6 592.6L276.6 592.3L276.7 592.3M277.8 592.0L278.6 591.8L279.6 591.5L279.7 591.5M280.8 591.2L281.8 590.9L282.7 590.7M283.8 590.4L284.8 590.1L285.7 589.9M286.8 589.6L287.8 589.3L288.7 589.1M289.8 588.8L290.8 588.5L291.7 588.3M292.8 588.0L293.8 587.7L294.7 587.4M295.8 587.1L296.8 586.9L297.7 586.6M298.8 586.3L299.8 586.0L300.7 585.7M301.8 585.4L302.8 585.1L303.7 584.9M304.8 584.6L305.8 584.3L306.7 584.0M307.8 583.7L308.8 583.4L309.7 583.1M310.8 582.8L311.8 582.5L312.7 582.2M313.8 581.9L314.8 581.6L315.7 581.3M316.8 580.9L317.8 580.6L318.7 580.4M319.8 580.0L320.8 579.7L321.7 579.4M322.8 579.1L323.8 578.8L324.7 578.5M325.8 578.1L326.7 577.8L327.7 577.5M328.8 577.1L329.7 576.8L330.7 576.5M331.8 576.1L332.7 575.8L333.7 575.5M334.8 575.1L335.7 574.8L336.7 574.5M337.8 574.1L338.7 573.8L339.7 573.5M340.8 573.1L341.7 572.8L342.7 572.5M343.8 572.1L344.7 571.7L345.7 571.4M346.8 571.0L347.7 570.7L348.7 570.3M349.8 570.0L350.7 569.6L351.7 569.3M352.8 568.9L353.7 568.5L354.7 568.2M355.8 567.8L356.7 567.5L357.7 567.1M358.8 566.7L359.7 566.3L360.7 566.0M361.8 565.6L362.7 565.2L363.7 564.8M364.8 564.4L365.7 564.1L366.7 563.7L366.7 563.7M367.8 563.3L368.7 562.9L369.7 562.6L369.7 562.6M370.8 562.1L371.7 561.8L372.7 561.4L372.7 561.4M373.8 561.0L374.7 560.6L375.7 560.2L375.7 560.2M376.8 559.8L377.7 559.4L378.7 559.0L378.7 559.0M379.8 558.6L380.7 558.2L381.7 557.8L381.7 557.8M382.8 557.4L383.7 557.0L384.7 556.6L384.7 556.6M385.8 556.1L386.7 555.8L387.7 555.4L387.7 555.4M388.8 554.9L389.7 554.5L390.7 554.1L390.7 554.1M391.8 553.6L392.7 553.3L393.7 552.9L393.7 552.8M394.8 552.4L395.7 552.0L396.7 551.6L396.7 551.6M397.8 551.1L398.7 550.7L399.7 550.3L399.7 550.3M400.8 549.8L401.7 549.4L402.7 549.0L402.7 549.0M403.8 548.5L404.7 548.1L405.7 547.7L405.7 547.7M406.8 547.2L407.7 546.8L408.7 546.3L408.7 546.3M409.8 545.8L410.7 545.4L411.7 545.0L411.7 545.0M412.8 544.5L413.6 544.1L414.6 543.6L414.7 543.6M415.8 543.1L416.6 542.7L417.6 542.3L417.7 542.2M418.8 541.7L419.6 541.3L420.6 540.9L420.7 540.9M421.8 540.3L422.6 540.0L423.6 539.5L423.7 539.5M424.8 538.9L425.6 538.5L426.6 538.1L426.7 538.0M427.8 537.5L428.6 537.1L429.6 536.6L429.7 536.6M430.8 536.1L431.6 535.7L432.6 535.2L432.7 535.2M433.8 534.6L434.6 534.2L435.6 533.8L435.7 533.7M436.8 533.2L437.6 532.8L438.6 532.3L438.7 532.2M439.8 531.7L440.6 531.3L441.6 530.8L441.7 530.8M442.8 530.2L443.6 529.8L444.6 529.3L444.7 529.3M445.8 528.7L446.6 528.3L447.6 527.8L447.7 527.8M448.8 527.2L449.6 526.8L450.6 526.3L450.7 526.2M451.8 525.7L452.6 525.3L453.6 524.7L453.7 524.7M454.8 524.1L455.6 523.7L456.6 523.2L456.7 523.1M457.8 522.6L458.6 522.2L459.6 521.6L459.7 521.6M460.8 521.0L461.6 520.6L462.6 520.1L462.7 520.0M463.8 519.4L464.6 519.0L465.6 518.5L465.7 518.4M466.8 517.8L467.6 517.4L468.6 516.9L468.7 516.8M469.8 516.2L470.6 515.8L471.6 515.2L471.7 515.2M472.8 514.6L473.6 514.1L474.6 513.6L474.7 513.5M475.8 512.9L476.6 512.5L477.6 512.0L477.7 511.9M478.8 511.3L479.6 510.9L480.6 510.3L480.7 510.2M481.8 509.6L482.6 509.2L483.6 508.6L483.7 508.5M484.8 507.9L485.6 507.5L486.6 506.9L486.7 506.9M487.8 506.2L488.6 505.8L489.6 505.2L489.7 505.2M490.8 504.5L491.6 504.1L492.6 503.5L492.7 503.4M493.8 502.8L494.6 502.4L495.6 501.8L495.7 501.7M496.8 501.1L497.6 500.6L498.6 500.1L498.7 500.0M499.8 499.3L500.8 498.7L501.7 498.2M502.8 497.6L503.8 497.0L504.7 496.4M505.8 495.8L506.8 495.2L507.7 494.7M508.8 494.0L509.8 493.4L510.7 492.9M511.8 492.2L512.8 491.6L513.7 491.0M514.8 490.4L515.8 489.8L516.7 489.2M517.8 488.6L518.8 488.0L519.7 487.4M520.8 486.7L521.8 486.1L522.7 485.5M523.8 484.9L524.8 484.2L525.7 483.7M526.8 483.0L527.8 482.4L528.7 481.8" stroke="#0000a8"/>
<path d="M120.0 625.7L121.5 625.4L122.9 625.0L124.4 624.7L125.8 624.5L127.2 624.2L128.7 624.0L130.1 623.8L131.6 623.7L133.0 623.5L134.5 623.4L135.9 623.3L137.3 623.3L138.8 623.2L140.2 623.1L141.7 623.1L143.1 623.0L144.6 623.0L146.0 622.9L147.4 622.9L148.9 622.8L150.3 622.7L151.8 622.6L153.2 622.5L154.7 622.4L156.1 622.2L157.6 622.1L159.0 621.9L160.4 621.7L161.9 621.5L163.3 621.3L164.8 621.1L166.2 620.8L167.7 620.6L169.1 620.3L170.5 620.1L172.0 619.8L173.4 619.5L174.9 619.1L176.3 618.8L177.8 618.4L179.2 618.0L180.6 617.5L182.1 617.0L183.5 616.5L185.0 616.0L186.4 615.4L187.9 614.8L189.3 614.3L190.8 613.7L192.2 613.1L193.6 612.5L195.1 612.0L196.5 611.4L198.0 610.8L199.4 610.3L200.9 609.7L202.3 609.2L203.7 608.6L205.2 608.1L206.6 607.5L208.1 606.9L209.5 606.3L211.0 605.6L212.4 605.0L213.8 604.4L215.3 603.7L216.7 603.0L218.2 602.4L219.6 601.7L221.1 601.0L222.5 600.4L224.0 599.7L225.4 599.0L226.8 598.4L228.3 597.7L229.7 597.1L231.2 596.4L232.6 595.7L234.1 595.0L235.5 594.3L236.9 593.6L238.4 592.9L239.8 592.2L241.3 591.4L242.7 590.6L244.2 589.8L245.6 588.9L247.0 588.1L248.5 587.2L249.9 586.3L251.4 585.4L252.8 584.5L254.3 583.5L255.7 582.6L257.2 581.6L258.6 580.7L260.0 579.7L261.5 578.8L262.9 577.8L264.4 576.9L265.8 575.9L267.3 574.9L268.7 574.0L270.1 573.0L271.6 572.1L273.0 571.1L274.5 570.1L275.9 569.2L277.4 568.2L278.8 567.3L280.2 566.3L281.7 565.4L283.1 564.4L284.6 563.5L286.0 562.5L287.5 561.6L288.9 560.6L290.4 559.7L291.8 558.8L293.2 557.8L294.7 556.9L296.1 556.0L297.6 555.1L299.0 554.2L300.5 553.2L301.9 552.3L303.3 551.4L304.8 550.5L306.2 549.6L307.7 548.7L309.1 547.8L310.6 546.8L312.0 545.9L313.4 544.9L314.9 543.9L316.3 542.9L317.8 541.9L319.2 540.9L320.7 539.8L322.1 538.7L323.6 537.6L325.0 536.4L326.4 535.3L327.9 534.1L329.3 532.9L330.8 531.7L332.2 530.5L333.7 529.3L335.1 528.0L336.5 526.8L338.0 525.6L339.4 524.3L340.9 523.1L342.3 521.9L343.8 520.7L345.2 519.4L346.6 518.2L348.1 517.0L349.5 515.8L351.0 514.6L352.4 513.4L353.9 512.2L355.3 511.0L356.8 509.8L358.2 508.6L359.6 507.4L361.1 506.2L362.5 505.0L364.0 503.9L365.4 502.7L366.9 501.5L368.3 500.3L369.7 499.1L371.2 497.9L372.6 496.7L374.1 495.6L375.5 494.4L377.0 493.2L378.4 492.0L379.8 490.8L381.3 489.6L382.7 488.4L384.2 487.2L385.6 486.0L387.1 484.8L388.5 483.6L390.0 482.4L391.4 481.2L392.8 480.0L394.3 478.8L395.7 477.6L397.2 476.4L398.6 475.2L400.1 474.0L401.5 472.7L402.9 471.5L404.4 470.3L405.8 469.0L407.3 467.8L408.7 466.5L410.2 465.3L411.6 464.0L413.0 462.8L414.5 461.5L415.9 460.2L417.4 459.0L418.8 457.7L420.3 456.4L421.7 455.1L423.2 453.8L424.6 452.5L426.0 451.2L427.5 449.8L428.9 448.5L430.4 447.2L431.8 445.9L433.3 444.5L434.7 443.2L436.1 441.8L437.6 440.5L439.0 439.1L440.5 437.7L441.9 436.4L443.4 435.0L444.8 433.6L446.2 432.2L447.7 430.8L449.1 429.5L450.6 428.1L452.0 426.7L453.5 425.3L454.9 423.9L456.4 422.5L457.8 421.0L459.2 419.6L460.7 418.2L462.1 416.8L463.6 415.4L465.0 414.0L466.5 412.5L467.9 411.1L469.3 409.7L470.8 408.3L472.2 406.8L473.7 405.4L475.1 404.0L476.6 402.5L478.0 401.1L479.4 399.6L480.9 398.2L482.3 396.8L483.8 395.3L485.2 393.9L486.7 392.4L488.1 391.0L489.6 389.6L491.0 388.1L492.4 386.7L493.9 385.2L495.3 383.8L496.8 382.3L498.2 380.9L499.7 379.4L501.1 378.0L502.5 376.5L504.0 375.1L505.4 373.6L506.9 372.2L508.3 370.7L509.8 369.3L511.2 367.8L512.6 366.4L514.1 364.9L515.5 363.5L517.0 362.0L518.4 360.6L519.9 359.1L521.3 357.7L522.8 356.2L524.2 354.8L525.6 353.3L527.1 351.9L528.5 350.4L528.8 350.2" stroke="#800000"/>
<path d="M120.0 625.7L121.5 625.4L122.9 625.0L124.4 624.7L125.8 624.5L127.2 624.2L128.7 624.0L130.1 623.8L131.6 623.7L133.0 623.5L134.5 623.4L135.9 623.3L137.3 623.3L138.8 623.2L140.2 623.1L141.7 623.1L143.1 623.0L144.6 623.0L146.0 622.9L147.4 622.9L148.9 622.8L150.3 622.7L151.8 622.6L153.2 622.5L154.7 622.4L156.1 622.2L157.6 622.1L159.0 621.9L160.4 621.7L161.9 621.5L163.3 621.3L164.8 621.1L166.2 620.8L167.7 620.6L169.1 620.3L170.5 620.1L172.0 619.8L173.4 619.5L174.9 619.1L176.3 618.8L177.8 618.4L179.2 618.0L180.6 617.5L182.1 617.0L183.5 616.5L185.0 616.0L186.4 615.4L187.9 614.8L189.3 614.3L190.8 613.7L192.2 613.1L193.6 612.5L195.1 612.0L196.5 611.4L198.0 610.8L199.4 610.3L200.9 609.7L202.3 609.2L203.7 608.6L205.2 608.1L206.6 607.5L208.1 606.9L209.5 606.3L211.0 605.7L212.4 605.0L213.8 604.4L215.3 603.7L216.7 603.1L218.2 602.4L219.6 601.7L221.1 601.0L222.5 600.4L224.0 599.7L225.4 599.0L226.8 598.4L228.3 597.7L229.7 597.0L231.2 596.3L232.6 595.7L234.1 595.0L235.5 594.3L236.9 593.5L238.4 592.8L239.8 592.0L241.3 591.2L242.7 590.4L244.2 589.6L245.6 588.7L247.0 587.8L248.5 586.9L249.9 586.0L251.4 585.1L252.8 584.2L254.3 583.3L255.7 582.3L257.2 581.4L258.6 580.4L260.0 579.4L261.5 578.5L262.9 577.5L264.4 576.6L265.8 575.6L267.3 574.7L268.7 573.7L270.1 572.7L271.6 571.7L273.0 570.7L274.5 569.7L275.9 568.7L277.4 567.7L278.8 566.6L280.2 565.6L281.7 564.5L283.1 563.4L284.6 562.3L286.0 561.2L287.5 560.1L288.9 558.9L290.4 557.8L291.8 556.7L293.2 555.6L294.7 554.5L296.1 553.5L297.6 552.4L299.0 551.3L300.5 550.3L301.9 549.3L303.3 548.3L304.8 547.4L306.2 546.4L307.7 545.5L309.1 544.5L310.6 543.6L312.0 542.6L313.4 541.6L314.9 540.6L316.3 539.6L317.8 538.6L319.2 537.5L320.7 536.5L322.1 535.3L323.6 534.2L325.0 533.0L326.4 531.8L327.9 530.6L329.3 529.3L330.8 528.1L332.2 526.8L333.7 525.5L335.1 524.2L336.5 522.9L338.0 521.6L339.4 520.3L340.9 519.0L342.3 517.7L343.8 516.4L345.2 515.1L346.6 513.9L348.1 512.6L349.5 511.3L351.0 510.0L352.4 508.7L353.9 507.5L355.3 506.2L356.8 504.9L358.2 503.6L359.6 502.3L361.1 501.1L362.5 499.8L364.0 498.5L365.4 497.3L366.9 496.0L368.3 494.7L369.7 493.4L371.2 492.2L372.6 490.9L374.1 489.6L375.5 488.3L377.0 487.0L378.4 485.8L379.8 484.5L381.3 483.2L382.7 481.9L384.2 480.6L385.6 479.3L387.1 478.0L388.5 476.7L390.0 475.4L391.4 474.1L392.8 472.8L394.3 471.5L395.7 470.2L397.2 468.8L398.6 467.5L400.1 466.2L401.5 464.8L402.9 463.5L404.4 462.1L405.8 460.8L407.3 459.4L408.7 458.0L410.2 456.7L411.6 455.3L413.0 453.9L414.5 452.5L415.9 451.1L417.4 449.7L418.8 448.3L420.3 446.8L421.7 445.4L423.2 444.0L424.6 442.5L426.0 441.1L427.5 439.6L428.9 438.1L430.4 436.7L431.8 435.2L433.3 433.7L434.7 432.2L436.1 430.7L437.6 429.2L439.0 427.7L440.5 426.2L441.9 424.6L443.4 423.1L444.8 421.6L446.2 420.0L447.7 418.5L449.1 417.0L450.6 415.4L452.0 413.9L453.5 412.3L454.9 410.8L456.4 409.2L457.8 407.6L459.2 406.1L460.7 404.5L462.1 402.9L463.6 401.4L465.0 399.8L466.5 398.2L467.9 396.7L469.3 395.1L470.8 393.5L472.2 391.9L473.7 390.4L475.1 388.8L476.6 387.2L478.0 385.7L479.4 384.1L480.9 382.5L482.3 380.9L483.8 379.4L485.2 377.8L486.7 376.2L488.1 374.7L489.6 373.1L491.0 371.5L492.4 370.0L493.9 368.4L495.3 366.8L496.8 365.3L498.2 363.7L499.7 362.1L501.1 360.6L502.5 359.0L504.0 357.5L505.4 355.9L506.9 354.3L508.3 352.8L509.8 351.2L511.2 349.7L512.6 348.1L514.1 346.5L515.5 345.0L517.0 343.4L518.4 341.9L519.9 340.3L521.3 338.7L522.8 337.2L524.2 335.6L525.6 334.1L527.1 332.5L528.5 330.9L528.8 330.7" stroke="#000000"/>
<path d="M120.0 625.7L121.5 625.4L122.9 625.0L124.4 624.7L125.8 624.5L127.2 624.2L128.7 624.0L130.1 623.8L131.6 623.7L133.0 623.5L134.5 623.4L135.9 623.3L137.3 623.3L138.8 623.2L140.2 623.1L141.7 623.1L143.1 623.0L144.6 623.0L146.0 622.9L147.4 622.9L148.9 622.8L150.3 622.7L151.8 622.6L153.2 622.5L154.7 622.4L156.1 622.2L157.6 622.1L159.0 621.9L160.4 621.7L161.9 621.5L163.3 621.3L164.8 621.1L166.2 620.8L167.7 620.6L169.1 620.3L170.5 620.1L172.0 619.8L173.4 619.5L174.9 619.1L176.3 618.8L177.8 618.4L179.2 618.0L180.6 617.5L182.1 617.0L183.5 616.5L185.0 616.0L186.4 615.4L187.9 614.8L189.3 614.3L190.8 613.7L192.2 613.1L193.6 612.5L195.1 612.0L196.5 611.4L198.0 610.8L199.4 610.3L200.9 609.7L202.3 609.2L203.7 608.6L205.2 608.1L206.6 607.5L208.1 606.9L209.5 606.3L211.0 605.6L212.4 605.0L213.8 604.4L215.3 603.7L216.7 603.0L218.2 602.4L219.6 601.7L221.1 601.0L222.5 600.4L224.0 599.7L225.4 599.0L226.8 598.4L228.3 597.7L229.7 597.0L231.2 596.4L232.6 595.7L234.1 595.0L235.5 594.3L236.9 593.5L238.4 592.8L239.8 592.0L241.3 591.2L242.7 590.4L244.2 589.5L245.6 588.7L247.0 587.8L248.5 586.8L249.9 585.9L251.4 585.0L252.8 584.0L254.3 583.0L255.7 582.1L257.2 581.1L258.6 580.1L260.0 579.2L261.5 578.2L262.9 577.2L264.4 576.2L265.8 575.3L267.3 574.3L268.7 573.3L270.1 572.3L271.6 571.3L273.0 570.2L274.5 569.2L275.9 568.1L277.4 567.0L278.8 565.9L280.2 564.8L281.7 563.7L283.1 562.5L284.6 561.3L286.0 560.1L287.5 558.9L288.9 557.7L290.4 556.4L291.8 555.2L293.2 554.0L294.7 552.8L296.1 551.5L297.6 550.3L299.0 549.1L300.5 548.0L301.9 546.8L303.3 545.7L304.8 544.5L306.2 543.4L307.7 542.3L309.1 541.2L310.6 540.1L312.0 539.0L313.4 537.9L314.9 536.7L316.3 535.6L317.8 534.4L319.2 533.3L320.7 532.1L322.1 530.9L323.6 529.6L325.0 528.4L326.4 527.1L327.9 525.8L329.3 524.5L330.8 523.2L332.2 521.9L333.7 520.6L335.1 519.2L336.5 517.9L338.0 516.5L339.4 515.2L340.9 513.8L342.3 512.4L343.8 511.1L345.2 509.7L346.6 508.3L348.1 506.9L349.5 505.6L351.0 504.2L352.4 502.8L353.9 501.4L355.3 500.0L356.8 498.6L358.2 497.2L359.6 495.8L361.1 494.4L362.5 493.0L364.0 491.6L365.4 490.2L366.9 488.8L368.3 487.3L369.7 485.9L371.2 484.5L372.6 483.0L374.1 481.6L375.5 480.1L377.0 478.7L378.4 477.2L379.8 475.8L381.3 474.3L382.7 472.8L384.2 471.4L385.6 469.9L387.1 468.4L388.5 466.9L390.0 465.4L391.4 463.9L392.8 462.4L394.3 460.9L395.7 459.3L397.2 457.8L398.6 456.3L400.1 454.7L401.5 453.2L402.9 451.7L404.4 450.1L405.8 448.5L407.3 447.0L408.7 445.4L410.2 443.8L411.6 442.2L413.0 440.6L414.5 439.0L415.9 437.4L417.4 435.8L418.8 434.2L420.3 432.5L421.7 430.9L423.2 429.2L424.6 427.6L426.0 425.9L427.5 424.3L428.9 422.6L430.4 420.9L431.8 419.2L433.3 417.5L434.7 415.8L436.1 414.1L437.6 412.4L439.0 410.7L440.5 409.0L441.9 407.3L443.4 405.5L444.8 403.8L446.2 402.1L447.7 400.3L449.1 398.6L450.6 396.8L452.0 395.1L453.5 393.3L454.9 391.6L456.4 389.8L457.8 388.0L459.2 386.3L460.7 384.5L462.1 382.7L463.6 381.0L465.0 379.2L466.5 377.4L467.9 375.6L469.3 373.8L470.8 372.1L472.2 370.3L473.7 368.5L475.1 366.7L476.6 364.9L478.0 363.1L479.4 361.4L480.9 359.6L482.3 357.8L483.8 356.0L485.2 354.2L486.7 352.4L488.1 350.6L489.6 348.8L491.0 347.0L492.4 345.2L493.9 343.4L495.3 341.6L496.8 339.8L498.2 338.0L499.7 336.1L501.1 334.3L502.5 332.5L504.0 330.6L505.4 328.7L506.9 326.9L508.3 325.0L509.8 323.1L511.2 321.2L512.6 319.3L514.1 317.4L515.5 315.5L517.0 313.6L518.4 311.7L519.9 309.8L521.3 307.9L522.8 306.0L524.2 304.0L525.6 302.1L527.1 300.2L528.5 298.3L528.8 297.9" stroke="#0000a0"/>
</g>
<g fill="#00ffff" stroke="#000" stroke-width="0.8">
<circle cx="125.20" cy="286.70" r="4.3"/>
<circle cx="145.89" cy="297.33" r="4.3"/>
<circle cx="166.59" cy="302.81" r="4.3"/>
<circle cx="187.28" cy="304.61" r="4.3"/>
<circle cx="207.98" cy="302.90" r="4.3"/>
<circle cx="228.68" cy="298.74" r="4.3"/>
<circle cx="270.07" cy="283.97" r="4.3"/>
<circle cx="311.46" cy="270.49" r="4.3"/>
<circle cx="352.85" cy="245.40" r="4.3"/>
<circle cx="394.24" cy="209.78" r="4.3"/>
<circle cx="435.64" cy="164.69" r="4.3"/>
<circle cx="518.42" cy="46.31" r="4.3"/>
<circle cx="114.85" cy="626.18" r="4.3"/>
<circle cx="125.20" cy="623.30" r="4.3"/>
<circle cx="145.89" cy="618.68" r="4.3"/>
<circle cx="166.59" cy="613.43" r="4.3"/>
<circle cx="187.28" cy="606.72" r="4.3"/>
<circle cx="207.98" cy="599.54" r="4.3"/>
<circle cx="228.68" cy="592.95" r="4.3"/>
<circle cx="270.07" cy="576.60" r="4.3"/>
<circle cx="311.46" cy="553.33" r="4.3"/>
<circle cx="352.85" cy="524.22" r="4.3"/>
<circle cx="394.24" cy="488.71" r="4.3"/>
<circle cx="435.64" cy="448.57" r="4.3"/>
<circle cx="518.42" cy="336.40" r="4.3"/>
</g>
<g font-family="'Liberation Sans', sans-serif" fill="#000">
<g font-size="18px" text-anchor="end">
<text x="95.5" y="318.04">-20</text>
<text x="95.5" y="280.40">0</text>
<text x="95.5" y="242.76">20</text>
<text x="95.5" y="205.12">40</text>
<text x="95.5" y="167.48">60</text>
<text x="95.5" y="129.84">80</text>
<text x="95.5" y="92.20">100</text>
<text x="95.5" y="54.56">120</text>
<text x="95.5" y="609.65">20</text>
<text x="95.5" y="580.80">40</text>
<text x="95.5" y="551.95">60</text>
<text x="95.5" y="523.10">80</text>
<text x="95.5" y="494.25">100</text>
<text x="95.5" y="465.40">120</text>
<text x="95.5" y="436.55">140</text>
<text x="95.5" y="407.70">160</text>
<text x="95.5" y="378.85">180</text>
<text x="95.5" y="350.00">200</text>
</g><g font-size="18px" text-anchor="middle">
<text x="104.50" y="656">0.0</text>
<text x="156.24" y="656">0.1</text>
<text x="207.98" y="656">0.2</text>
<text x="259.72" y="656">0.3</text>
<text x="311.46" y="656">0.4</text>
<text x="363.20" y="656">0.5</text>
<text x="414.94" y="656">0.6</text>
<text x="466.68" y="656">0.7</text>
<text x="518.42" y="656">0.8</text>
</g>
<text x="319" y="65.8" font-size="22px" text-anchor="middle">Symmetric Nuclear Matter</text>
<text x="294" y="388" font-size="22px" text-anchor="middle">Pure Neutron Matter</text>
<text x="313.5" y="687.6" font-size="20px" text-anchor="middle"><tspan font-style="italic">ρ</tspan> (fm<tspan font-size="12.5px" dy="-10.7">-3</tspan><tspan dy="10.7">)</tspan></text>
<text transform="translate(54.6 338.3) rotate(-90)" font-size="19.5px" text-anchor="middle"><tspan font-style="italic">E/A</tspan> (MeV)</text>
<g font-size="13px">
<path d="M144 97.80H178.2" stroke="#0000a0" stroke-width="1.80" fill="none"/>
<text x="181" y="102.50">CDM3Y6</text>
<path d="M144 113.90H178.2" stroke="#000000" stroke-width="1.80" fill="none"/>
<text x="181" y="118.60">CDM3Y4</text>
<path d="M144 129.40H178.2" stroke="#800000" stroke-width="1.80" fill="none"/>
<text x="181" y="134.10">CDM3Y3</text>
<path d="M144.0 145.3L145.9 145.3M147.0 145.3L148.9 145.3M150.0 145.3L151.9 145.3M153.0 145.3L154.9 145.3M156.0 145.3L157.9 145.3M159.0 145.3L160.8 145.3L160.9 145.3M162.0 145.3L163.9 145.3M165.0 145.3L166.9 145.3M168.0 145.3L169.9 145.3M171.0 145.3L172.9 145.3M174.0 145.3L175.9 145.3L175.9 145.3M177.0 145.3L178.2 145.3" stroke="#0000a8" stroke-width="1.80" fill="none"/>
<text x="181" y="150.00">M3Y-P3</text>
<path d="M144.0 161.0L145.9 161.0M147.0 161.0L148.9 161.0M150.0 161.0L151.9 161.0M153.0 161.0L154.9 161.0M156.0 161.0L157.9 161.0M159.0 161.0L160.8 161.0L160.9 161.0M162.0 161.0L163.9 161.0M165.0 161.0L166.9 161.0M168.0 161.0L169.9 161.0M171.0 161.0L172.9 161.0M174.0 161.0L175.9 161.0L175.9 161.0M177.0 161.0L178.2 161.0" stroke="#000000" stroke-width="1.80" fill="none"/>
<text x="181" y="165.70">M3Y-P4</text>
<path d="M144.0 176.9L145.9 176.9M147.0 176.9L148.9 176.9M150.0 176.9L151.9 176.9M153.0 176.9L154.9 176.9M156.0 176.9L157.9 176.9M159.0 176.9L160.8 176.9L160.9 176.9M162.0 176.9L163.9 176.9M165.0 176.9L166.9 176.9M168.0 176.9L169.9 176.9M171.0 176.9L172.9 176.9M174.0 176.9L175.9 176.9L175.9 176.9M177.0 176.9L178.2 176.9" stroke="#800000" stroke-width="1.80" fill="none"/>
<text x="181" y="181.60">M3Y-P5</text>
<path d="M144.0 192.6L146.1 192.6L148.3 192.6L148.8 192.6M150.7 192.6L152.6 192.6L154.7 192.6L155.4 192.6M157.4 192.6L159.0 192.6L161.2 192.6L162.2 192.6M164.1 192.6L166.0 192.6L168.2 192.6L168.8 192.6M170.8 192.6L172.5 192.6L174.6 192.6L175.6 192.6" stroke="#ff0000" stroke-width="1.80" fill="none"/>
<text x="181" y="197.30">D1N</text>
<path d="M144.0 208.8L146.1 208.8L148.3 208.8L148.8 208.8M150.7 208.8L152.6 208.8L154.7 208.8L155.4 208.8M157.4 208.8L159.0 208.8L161.2 208.8L162.2 208.8M164.1 208.8L166.0 208.8L168.2 208.8L168.8 208.8M170.8 208.8L172.5 208.8L174.6 208.8L175.6 208.8" stroke="#0000ff" stroke-width="1.80" fill="none"/>
<text x="181" y="213.50">D1S</text>
<path d="M144.0 224.7L146.3 224.7L148.6 224.7L150.7 224.7M152.6 224.7L154.1 224.7M155.9 224.7L157.8 224.7L160.1 224.7L162.4 224.7L162.6 224.7M164.4 224.7L165.9 224.7M167.8 224.7L169.9 224.7L172.2 224.7L174.5 224.7M176.3 224.7L177.8 224.7" stroke="#008000" stroke-width="1.80" fill="none"/>
<text x="181" y="229.40">SLy4</text>
<circle cx="161" cy="240.2" r="4.3" fill="#00ffff" stroke="#000" stroke-width="0.8"/>
<text x="181" y="244.9">APR</text>
</g></g></svg>
</body></html>
